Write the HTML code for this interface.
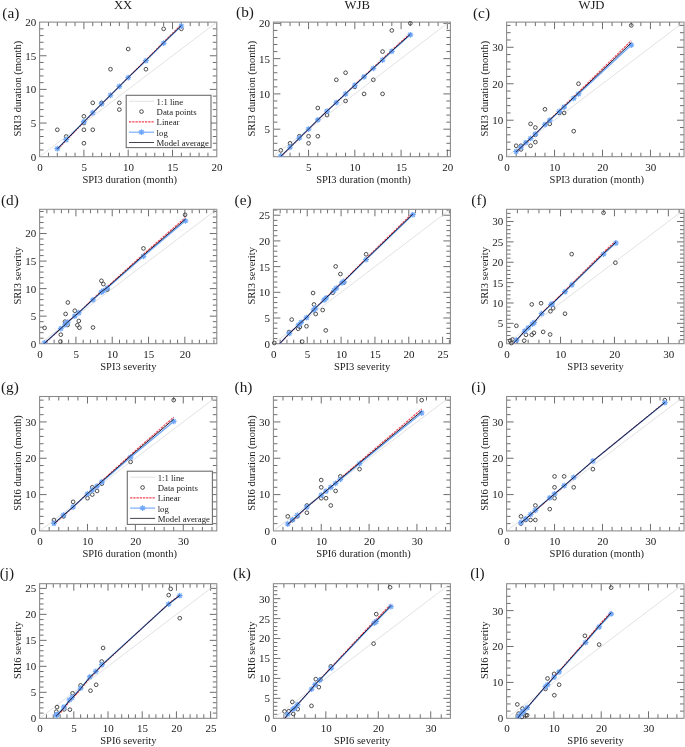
<!DOCTYPE html>
<html><head><meta charset="utf-8"><style>
html,body{margin:0;padding:0;background:#fff;}
svg{display:block;will-change:transform;}
text{font-family:"Liberation Serif", serif;fill:#1a1a1a;}
</style></head><body>
<svg width="685" height="747" viewBox="0 0 685 747">
<rect width="685" height="747" fill="#fff"/>
<clipPath id="clipa"><rect x="39.6" y="22.1" width="177.2" height="134.6"/></clipPath>
<path d="M48.46 156.7v-4M48.46 22.1v4M57.32 156.7v-4M57.32 22.1v4M66.18 156.7v-4M66.18 22.1v4M75.04 156.7v-4M75.04 22.1v4M83.9 156.7v-7M83.9 22.1v7M92.76 156.7v-4M92.76 22.1v4M101.62 156.7v-4M101.62 22.1v4M110.48 156.7v-4M110.48 22.1v4M119.34 156.7v-4M119.34 22.1v4M128.2 156.7v-7M128.2 22.1v7M137.06 156.7v-4M137.06 22.1v4M145.92 156.7v-4M145.92 22.1v4M154.78 156.7v-4M154.78 22.1v4M163.64 156.7v-4M163.64 22.1v4M172.5 156.7v-7M172.5 22.1v7M181.36 156.7v-4M181.36 22.1v4M190.22 156.7v-4M190.22 22.1v4M199.08 156.7v-4M199.08 22.1v4M207.94 156.7v-4M207.94 22.1v4M39.6 149.97h4M216.8 149.97h-4M39.6 143.24h4M216.8 143.24h-4M39.6 136.51h4M216.8 136.51h-4M39.6 129.78h4M216.8 129.78h-4M39.6 123.05h7M216.8 123.05h-7M39.6 116.32h4M216.8 116.32h-4M39.6 109.59h4M216.8 109.59h-4M39.6 102.86h4M216.8 102.86h-4M39.6 96.13h4M216.8 96.13h-4M39.6 89.4h7M216.8 89.4h-7M39.6 82.67h4M216.8 82.67h-4M39.6 75.94h4M216.8 75.94h-4M39.6 69.21h4M216.8 69.21h-4M39.6 62.48h4M216.8 62.48h-4M39.6 55.75h7M216.8 55.75h-7M39.6 49.02h4M216.8 49.02h-4M39.6 42.29h4M216.8 42.29h-4M39.6 35.56h4M216.8 35.56h-4M39.6 28.83h4M216.8 28.83h-4" stroke="#5e5e5e" stroke-width="0.9" fill="none"/>
<text x="39.9" y="170.8" text-anchor="middle" font-size="11.0">0</text>
<text x="84.2" y="170.8" text-anchor="middle" font-size="11.0">5</text>
<text x="128.5" y="170.8" text-anchor="middle" font-size="11.0">10</text>
<text x="172.8" y="170.8" text-anchor="middle" font-size="11.0">15</text>
<text x="217.1" y="170.8" text-anchor="middle" font-size="11.0">20</text>
<text x="36.2" y="160.6" text-anchor="end" font-size="11.0">0</text>
<text x="36.2" y="126.95" text-anchor="end" font-size="11.0">5</text>
<text x="36.2" y="93.3" text-anchor="end" font-size="11.0">10</text>
<text x="36.2" y="59.65" text-anchor="end" font-size="11.0">15</text>
<text x="36.2" y="26" text-anchor="end" font-size="11.0">20</text>
<rect x="39.6" y="22.1" width="177.2" height="134.6" fill="none" stroke="#888888" stroke-width="1.05"/>
<g clip-path="url(#clipa)"><line x1="39.6" y1="156.7" x2="216.8" y2="22.1" stroke="#d6d6d6" stroke-width="0.7"/></g>
<g fill="none" stroke="#3a3a3a" stroke-width="0.9"><circle cx="57.32" cy="129.78" r="1.85"/><circle cx="66.18" cy="136.51" r="1.85"/><circle cx="83.9" cy="116.32" r="1.85"/><circle cx="83.9" cy="123.05" r="1.85"/><circle cx="83.9" cy="129.78" r="1.85"/><circle cx="83.9" cy="143.24" r="1.85"/><circle cx="92.76" cy="102.86" r="1.85"/><circle cx="92.76" cy="129.78" r="1.85"/><circle cx="101.62" cy="102.86" r="1.85"/><circle cx="119.34" cy="102.86" r="1.85"/><circle cx="119.34" cy="109.59" r="1.85"/><circle cx="110.48" cy="69.21" r="1.85"/><circle cx="128.2" cy="49.02" r="1.85"/><circle cx="145.92" cy="69.21" r="1.85"/><circle cx="163.64" cy="28.83" r="1.85"/><circle cx="181.36" cy="28.83" r="1.85"/></g>
<g clip-path="url(#clipa)"><polyline points="57.32,149.7 66.18,140.51 83.9,122.21 92.76,113.09 101.62,104.04 110.48,95.26 119.34,86.27 128.2,77.29 145.92,59.99 163.64,42.09 181.36,24.66" fill="none" stroke="#f04656" stroke-width="1.2" stroke-dasharray="2.3 0.9"/><polyline points="57.32,148.69 66.18,139.67 83.9,121.7 92.76,112.75 101.62,103.87 110.48,95.26 119.34,86.44 128.2,77.62 145.92,60.66 163.64,43.1 181.36,26" fill="none" stroke="#6ea6fa" stroke-width="1.3"/><path d="M54.42 148.69L60.22 148.69M55.27 146.64L59.37 150.74M57.32 145.79L57.32 151.59M59.37 146.64L55.27 150.74" stroke="#6ea6fa" stroke-width="1.2" fill="none"/><path d="M63.28 139.67L69.08 139.67M64.13 137.62L68.23 141.72M66.18 136.77L66.18 142.57M68.23 137.62L64.13 141.72" stroke="#6ea6fa" stroke-width="1.2" fill="none"/><path d="M81 121.7L86.8 121.7M81.85 119.65L85.95 123.75M83.9 118.8L83.9 124.6M85.95 119.65L81.85 123.75" stroke="#6ea6fa" stroke-width="1.2" fill="none"/><path d="M89.86 112.75L95.66 112.75M90.71 110.7L94.81 114.8M92.76 109.85L92.76 115.65M94.81 110.7L90.71 114.8" stroke="#6ea6fa" stroke-width="1.2" fill="none"/><path d="M98.72 103.87L104.52 103.87M99.57 101.82L103.67 105.92M101.62 100.97L101.62 106.77M103.67 101.82L99.57 105.92" stroke="#6ea6fa" stroke-width="1.2" fill="none"/><path d="M107.58 95.26L113.38 95.26M108.43 93.2L112.53 97.31M110.48 92.36L110.48 98.16M112.53 93.2L108.43 97.31" stroke="#6ea6fa" stroke-width="1.2" fill="none"/><path d="M116.44 86.44L122.24 86.44M117.29 84.39L121.39 88.49M119.34 83.54L119.34 89.34M121.39 84.39L117.29 88.49" stroke="#6ea6fa" stroke-width="1.2" fill="none"/><path d="M125.3 77.62L131.1 77.62M126.15 75.57L130.25 79.67M128.2 74.72L128.2 80.52M130.25 75.57L126.15 79.67" stroke="#6ea6fa" stroke-width="1.2" fill="none"/><path d="M143.02 60.66L148.82 60.66M143.87 58.61L147.97 62.71M145.92 57.76L145.92 63.56M147.97 58.61L143.87 62.71" stroke="#6ea6fa" stroke-width="1.2" fill="none"/><path d="M160.74 43.1L166.54 43.1M161.59 41.05L165.69 45.15M163.64 40.2L163.64 46M165.69 41.05L161.59 45.15" stroke="#6ea6fa" stroke-width="1.2" fill="none"/><path d="M178.46 26L184.26 26M179.31 23.95L183.41 28.05M181.36 23.1L181.36 28.9M183.41 23.95L179.31 28.05" stroke="#6ea6fa" stroke-width="1.2" fill="none"/><polyline points="57.32,149.03 66.18,139.95 83.9,121.85 92.76,112.84 101.62,103.89 110.48,95.22 119.34,86.34 128.2,77.46 145.92,60.37 163.64,42.68 181.36,25.47" fill="none" stroke="#1e1e30" stroke-width="1.0"/></g>
<text x="129.7" y="182.6" text-anchor="middle" font-size="10.5">SPI3 duration (month)</text>
<text transform="translate(21 88.7) rotate(-90)" text-anchor="middle" font-size="10.5">SRI3 duration (month)</text>
<text x="2.31" y="17.5" font-size="15.3">(a)</text>
<text x="123.1" y="9.2" text-anchor="middle" font-size="12.7">XX</text>
<rect x="126.2" y="95.3" width="84.8" height="52.3" fill="#fff" stroke="#6e6e6e" stroke-width="1.1"/>
<line x1="129" y1="101.3" x2="154" y2="101.3" stroke="#d6d6d6" stroke-width="0.7"/>
<circle cx="141.5" cy="111.6" r="1.85" fill="none" stroke="#3a3a3a" stroke-width="0.9"/>
<line x1="129" y1="121.9" x2="154" y2="121.9" stroke="#f04656" stroke-width="1.2" stroke-dasharray="2.3 0.9"/>
<line x1="129" y1="132.2" x2="154" y2="132.2" stroke="#6ea6fa" stroke-width="1.1"/>
<path d="M138.6 132.2L144.4 132.2M139.45 130.15L143.55 134.25M141.5 129.3L141.5 135.1M143.55 130.15L139.45 134.25" stroke="#6ea6fa" stroke-width="1.2" fill="none"/>
<line x1="129" y1="142.5" x2="154" y2="142.5" stroke="#222230" stroke-width="0.85"/>
<text x="156.6" y="104.7" font-size="8.75">1:1 line</text>
<text x="156.6" y="115" font-size="8.75">Data points</text>
<text x="156.6" y="125.3" font-size="8.75">Linear</text>
<text x="156.6" y="135.6" font-size="8.75">log</text>
<text x="156.6" y="145.9" font-size="8.75">Model average</text>
<clipPath id="clipb"><rect x="273.4" y="22.1" width="177" height="134.6"/></clipPath>
<path d="M280.8 156.7v-4M280.8 22.1v4M290.05 156.7v-4M290.05 22.1v4M299.31 156.7v-4M299.31 22.1v4M308.56 156.7v-7M308.56 22.1v7M317.81 156.7v-4M317.81 22.1v4M327.06 156.7v-4M327.06 22.1v4M336.32 156.7v-4M336.32 22.1v4M345.57 156.7v-4M345.57 22.1v4M354.82 156.7v-7M354.82 22.1v7M364.07 156.7v-4M364.07 22.1v4M373.33 156.7v-4M373.33 22.1v4M382.58 156.7v-4M382.58 22.1v4M391.83 156.7v-4M391.83 22.1v4M401.08 156.7v-7M401.08 22.1v7M410.34 156.7v-4M410.34 22.1v4M419.59 156.7v-4M419.59 22.1v4M428.84 156.7v-4M428.84 22.1v4M438.09 156.7v-4M438.09 22.1v4M447.35 156.7v-7M447.35 22.1v7M273.4 150.35h4M450.4 150.35h-4M273.4 143.3h4M450.4 143.3h-4M273.4 136.24h4M450.4 136.24h-4M273.4 129.19h7M450.4 129.19h-7M273.4 122.13h4M450.4 122.13h-4M273.4 115.08h4M450.4 115.08h-4M273.4 108.02h4M450.4 108.02h-4M273.4 100.97h4M450.4 100.97h-4M273.4 93.91h7M450.4 93.91h-7M273.4 86.86h4M450.4 86.86h-4M273.4 79.81h4M450.4 79.81h-4M273.4 72.75h4M450.4 72.75h-4M273.4 65.7h4M450.4 65.7h-4M273.4 58.64h7M450.4 58.64h-7M273.4 51.59h4M450.4 51.59h-4M273.4 44.53h4M450.4 44.53h-4M273.4 37.48h4M450.4 37.48h-4M273.4 30.42h4M450.4 30.42h-4M273.4 23.37h7M450.4 23.37h-7" stroke="#5e5e5e" stroke-width="0.9" fill="none"/>
<text x="308.86" y="170.8" text-anchor="middle" font-size="11.0">5</text>
<text x="355.12" y="170.8" text-anchor="middle" font-size="11.0">10</text>
<text x="401.38" y="170.8" text-anchor="middle" font-size="11.0">15</text>
<text x="447.65" y="170.8" text-anchor="middle" font-size="11.0">20</text>
<text x="270" y="133.09" text-anchor="end" font-size="11.0">5</text>
<text x="270" y="97.81" text-anchor="end" font-size="11.0">10</text>
<text x="270" y="62.54" text-anchor="end" font-size="11.0">15</text>
<text x="270" y="27.27" text-anchor="end" font-size="11.0">20</text>
<rect x="273.4" y="22.1" width="177" height="134.6" fill="none" stroke="#888888" stroke-width="1.05"/>
<g clip-path="url(#clipb)"><line x1="273.4" y1="155.99" x2="449.01" y2="22.1" stroke="#d6d6d6" stroke-width="0.7"/></g>
<g fill="none" stroke="#3a3a3a" stroke-width="0.9"><circle cx="280.8" cy="150.35" r="1.85"/><circle cx="290.05" cy="143.3" r="1.85"/><circle cx="299.31" cy="136.24" r="1.85"/><circle cx="308.56" cy="136.24" r="1.85"/><circle cx="308.56" cy="143.3" r="1.85"/><circle cx="317.81" cy="136.24" r="1.85"/><circle cx="317.81" cy="108.02" r="1.85"/><circle cx="327.06" cy="115.08" r="1.85"/><circle cx="336.32" cy="79.81" r="1.85"/><circle cx="345.57" cy="72.75" r="1.85"/><circle cx="345.57" cy="100.97" r="1.85"/><circle cx="354.82" cy="86.86" r="1.85"/><circle cx="364.07" cy="93.91" r="1.85"/><circle cx="373.33" cy="79.81" r="1.85"/><circle cx="382.58" cy="93.91" r="1.85"/><circle cx="382.58" cy="51.59" r="1.85"/><circle cx="391.83" cy="30.42" r="1.85"/><circle cx="410.34" cy="23.37" r="1.85"/></g>
<g clip-path="url(#clipb)"><polyline points="280.8,156.84 290.05,147.8 299.31,138.48 308.56,129.3 317.81,119.98 327.06,111.08 336.32,102.39 345.57,93.63 354.82,84.73 364.07,76.19 373.33,67.57 382.58,59.03 391.83,50.2 410.34,33.39" fill="none" stroke="#f04656" stroke-width="1.2" stroke-dasharray="2.3 0.9"/><polyline points="280.8,156.14 290.05,147.25 299.31,138.08 308.56,129.05 317.81,119.88 327.06,111.13 336.32,102.59 345.57,93.99 354.82,85.24 364.07,76.84 373.33,68.38 382.58,59.98 391.83,51.31 410.34,34.8" fill="none" stroke="#6ea6fa" stroke-width="1.3"/><path d="M277.9 156.14L283.7 156.14M278.75 154.09L282.85 158.19M280.8 153.24L280.8 159.04M282.85 154.09L278.75 158.19" stroke="#6ea6fa" stroke-width="1.2" fill="none"/><path d="M287.15 147.25L292.95 147.25M288 145.2L292.11 149.3M290.05 144.35L290.05 150.15M292.11 145.2L288 149.3" stroke="#6ea6fa" stroke-width="1.2" fill="none"/><path d="M296.41 138.08L302.21 138.08M297.26 136.03L301.36 140.13M299.31 135.18L299.31 140.98M301.36 136.03L297.26 140.13" stroke="#6ea6fa" stroke-width="1.2" fill="none"/><path d="M305.66 129.05L311.46 129.05M306.51 127L310.61 131.1M308.56 126.15L308.56 131.95M310.61 127L306.51 131.1" stroke="#6ea6fa" stroke-width="1.2" fill="none"/><path d="M314.91 119.88L320.71 119.88M315.76 117.82L319.86 121.93M317.81 116.98L317.81 122.78M319.86 117.82L315.76 121.93" stroke="#6ea6fa" stroke-width="1.2" fill="none"/><path d="M324.16 111.13L329.96 111.13M325.01 109.08L329.12 113.18M327.06 108.23L327.06 114.03M329.12 109.08L325.01 113.18" stroke="#6ea6fa" stroke-width="1.2" fill="none"/><path d="M333.42 102.59L339.22 102.59M334.27 100.54L338.37 104.64M336.32 99.69L336.32 105.49M338.37 100.54L334.27 104.64" stroke="#6ea6fa" stroke-width="1.2" fill="none"/><path d="M342.67 93.99L348.47 93.99M343.52 91.93L347.62 96.04M345.57 91.09L345.57 96.89M347.62 91.93L343.52 96.04" stroke="#6ea6fa" stroke-width="1.2" fill="none"/><path d="M351.92 85.24L357.72 85.24M352.77 83.19L356.87 87.29M354.82 82.34L354.82 88.14M356.87 83.19L352.77 87.29" stroke="#6ea6fa" stroke-width="1.2" fill="none"/><path d="M361.17 76.84L366.97 76.84M362.02 74.79L366.12 78.89M364.07 73.94L364.07 79.74M366.12 74.79L362.02 78.89" stroke="#6ea6fa" stroke-width="1.2" fill="none"/><path d="M370.43 68.38L376.23 68.38M371.28 66.33L375.38 70.43M373.33 65.48L373.33 71.28M375.38 66.33L371.28 70.43" stroke="#6ea6fa" stroke-width="1.2" fill="none"/><path d="M379.68 59.98L385.48 59.98M380.53 57.93L384.63 62.03M382.58 57.08L382.58 62.88M384.63 57.93L380.53 62.03" stroke="#6ea6fa" stroke-width="1.2" fill="none"/><path d="M388.93 51.31L394.73 51.31M389.78 49.26L393.88 53.36M391.83 48.41L391.83 54.21M393.88 49.26L389.78 53.36" stroke="#6ea6fa" stroke-width="1.2" fill="none"/><path d="M407.44 34.8L413.24 34.8M408.29 32.75L412.39 36.85M410.34 31.9L410.34 37.7M412.39 32.75L408.29 36.85" stroke="#6ea6fa" stroke-width="1.2" fill="none"/><polyline points="280.8,156.35 290.05,147.4 299.31,138.18 308.56,129.09 317.81,119.87 327.06,111.06 336.32,102.47 345.57,93.81 354.82,85.01 364.07,76.56 373.33,68.03 382.58,59.58 391.83,50.85 410.34,34.23" fill="none" stroke="#1e1e30" stroke-width="1.0"/></g>
<text x="363.4" y="182.6" text-anchor="middle" font-size="10.5">SPI3 duration (month)</text>
<text transform="translate(254.8 88.7) rotate(-90)" text-anchor="middle" font-size="10.5">SRI3 duration (month)</text>
<text x="236.11" y="17.4" font-size="15.3">(b)</text>
<text x="357.2" y="9.2" text-anchor="middle" font-size="12.7">WJB</text>
<clipPath id="clipc"><rect x="506.6" y="22.1" width="177.4" height="134.6"/></clipPath>
<path d="M516.19 156.7v-4M516.19 22.1v4M525.78 156.7v-4M525.78 22.1v4M535.37 156.7v-4M535.37 22.1v4M544.96 156.7v-4M544.96 22.1v4M554.55 156.7v-7M554.55 22.1v7M564.14 156.7v-4M564.14 22.1v4M573.72 156.7v-4M573.72 22.1v4M583.31 156.7v-4M583.31 22.1v4M592.9 156.7v-4M592.9 22.1v4M602.49 156.7v-7M602.49 22.1v7M612.08 156.7v-4M612.08 22.1v4M621.67 156.7v-4M621.67 22.1v4M631.26 156.7v-4M631.26 22.1v4M640.85 156.7v-4M640.85 22.1v4M650.44 156.7v-7M650.44 22.1v7M660.03 156.7v-4M660.03 22.1v4M669.62 156.7v-4M669.62 22.1v4M679.21 156.7v-4M679.21 22.1v4M506.6 149.4h4M684 149.4h-4M506.6 142.11h4M684 142.11h-4M506.6 134.81h4M684 134.81h-4M506.6 127.52h4M684 127.52h-4M506.6 120.22h7M684 120.22h-7M506.6 112.93h4M684 112.93h-4M506.6 105.63h4M684 105.63h-4M506.6 98.34h4M684 98.34h-4M506.6 91.04h4M684 91.04h-4M506.6 83.75h7M684 83.75h-7M506.6 76.45h4M684 76.45h-4M506.6 69.16h4M684 69.16h-4M506.6 61.86h4M684 61.86h-4M506.6 54.56h4M684 54.56h-4M506.6 47.27h7M684 47.27h-7M506.6 39.97h4M684 39.97h-4M506.6 32.68h4M684 32.68h-4M506.6 25.38h4M684 25.38h-4" stroke="#5e5e5e" stroke-width="0.9" fill="none"/>
<text x="506.9" y="170.8" text-anchor="middle" font-size="11.0">0</text>
<text x="554.85" y="170.8" text-anchor="middle" font-size="11.0">10</text>
<text x="602.79" y="170.8" text-anchor="middle" font-size="11.0">20</text>
<text x="650.74" y="170.8" text-anchor="middle" font-size="11.0">30</text>
<text x="503.2" y="160.6" text-anchor="end" font-size="11.0">0</text>
<text x="503.2" y="124.12" text-anchor="end" font-size="11.0">10</text>
<text x="503.2" y="87.65" text-anchor="end" font-size="11.0">20</text>
<text x="503.2" y="51.17" text-anchor="end" font-size="11.0">30</text>
<rect x="506.6" y="22.1" width="177.4" height="134.6" fill="none" stroke="#888888" stroke-width="1.05"/>
<g clip-path="url(#clipc)"><line x1="506.6" y1="156.7" x2="683.52" y2="22.1" stroke="#d6d6d6" stroke-width="0.7"/></g>
<g fill="none" stroke="#3a3a3a" stroke-width="0.9"><circle cx="516.19" cy="145.76" r="1.85"/><circle cx="520.98" cy="145.76" r="1.85"/><circle cx="520.98" cy="149.4" r="1.85"/><circle cx="530.57" cy="145.76" r="1.85"/><circle cx="530.57" cy="123.87" r="1.85"/><circle cx="535.37" cy="127.52" r="1.85"/><circle cx="535.37" cy="142.11" r="1.85"/><circle cx="535.37" cy="134.81" r="1.85"/><circle cx="544.96" cy="109.28" r="1.85"/><circle cx="549.75" cy="123.87" r="1.85"/><circle cx="559.34" cy="112.93" r="1.85"/><circle cx="564.14" cy="112.93" r="1.85"/><circle cx="573.72" cy="131.17" r="1.85"/><circle cx="578.52" cy="83.75" r="1.85"/><circle cx="631.26" cy="25.38" r="1.85"/></g>
<g clip-path="url(#clipc)"><polyline points="516.19,152.61 520.98,148.08 525.78,143.19 530.57,138.87 535.37,134.23 544.96,124.25 549.75,119.72 559.34,110.51 564.14,105.91 573.72,96.7 578.52,92.09 631.26,40.7" fill="none" stroke="#f04656" stroke-width="1.2" stroke-dasharray="2.3 0.9"/><polyline points="516.19,151.52 520.98,147.22 525.78,142.55 530.57,138.46 535.37,134.05 544.96,124.53 549.75,120.22 559.34,111.47 564.14,107.09 573.72,98.34 578.52,93.96 631.26,45.08" fill="none" stroke="#6ea6fa" stroke-width="1.3"/><path d="M513.29 151.52L519.09 151.52M514.14 149.47L518.24 153.57M516.19 148.62L516.19 154.42M518.24 149.47L514.14 153.57" stroke="#6ea6fa" stroke-width="1.2" fill="none"/><path d="M518.08 147.22L523.88 147.22M518.93 145.17L523.03 149.27M520.98 144.32L520.98 150.12M523.03 145.17L518.93 149.27" stroke="#6ea6fa" stroke-width="1.2" fill="none"/><path d="M522.88 142.55L528.68 142.55M523.73 140.5L527.83 144.6M525.78 139.65L525.78 145.45M527.83 140.5L523.73 144.6" stroke="#6ea6fa" stroke-width="1.2" fill="none"/><path d="M527.67 138.46L533.47 138.46M528.52 136.41L532.62 140.51M530.57 135.56L530.57 141.36M532.62 136.41L528.52 140.51" stroke="#6ea6fa" stroke-width="1.2" fill="none"/><path d="M532.47 134.05L538.27 134.05M533.32 132L537.42 136.1M535.37 131.15L535.37 136.95M537.42 132L533.32 136.1" stroke="#6ea6fa" stroke-width="1.2" fill="none"/><path d="M542.06 124.53L547.86 124.53M542.91 122.48L547.01 126.58M544.96 121.63L544.96 127.43M547.01 122.48L542.91 126.58" stroke="#6ea6fa" stroke-width="1.2" fill="none"/><path d="M546.85 120.22L552.65 120.22M547.7 118.17L551.8 122.27M549.75 117.32L549.75 123.12M551.8 118.17L547.7 122.27" stroke="#6ea6fa" stroke-width="1.2" fill="none"/><path d="M556.44 111.47L562.24 111.47M557.29 109.42L561.39 113.52M559.34 108.57L559.34 114.37M561.39 109.42L557.29 113.52" stroke="#6ea6fa" stroke-width="1.2" fill="none"/><path d="M561.24 107.09L567.04 107.09M562.08 105.04L566.19 109.14M564.14 104.19L564.14 109.99M566.19 105.04L562.08 109.14" stroke="#6ea6fa" stroke-width="1.2" fill="none"/><path d="M570.82 98.34L576.62 98.34M571.67 96.29L575.77 100.39M573.72 95.44L573.72 101.24M575.77 96.29L571.67 100.39" stroke="#6ea6fa" stroke-width="1.2" fill="none"/><path d="M575.62 93.96L581.42 93.96M576.47 91.91L580.57 96.01M578.52 91.06L578.52 96.86M580.57 91.91L576.47 96.01" stroke="#6ea6fa" stroke-width="1.2" fill="none"/><path d="M628.36 45.08L634.16 45.08M629.21 43.03L633.31 47.13M631.26 42.18L631.26 47.98M633.31 43.03L629.21 47.13" stroke="#6ea6fa" stroke-width="1.2" fill="none"/><polyline points="516.19,151.89 520.98,147.47 525.78,142.7 530.57,138.51 535.37,133.99 544.96,124.25 549.75,119.84 559.34,110.88 564.14,106.39 573.72,97.42 578.52,92.94 631.26,42.89" fill="none" stroke="#1e1e30" stroke-width="1.0"/></g>
<text x="596.8" y="182.6" text-anchor="middle" font-size="10.5">SPI3 duration (month)</text>
<text transform="translate(488 88.7) rotate(-90)" text-anchor="middle" font-size="10.5">SRI3 duration (month)</text>
<text x="473.01" y="17.6" font-size="15.3">(c)</text>
<text x="591.5" y="9.2" text-anchor="middle" font-size="12.7">WJD</text>
<clipPath id="clipd"><rect x="39.6" y="209.3" width="177.2" height="134.4"/></clipPath>
<path d="M46.86 343.7v-4M46.86 209.3v4M54.12 343.7v-4M54.12 209.3v4M61.39 343.7v-4M61.39 209.3v4M68.65 343.7v-4M68.65 209.3v4M75.91 343.7v-7M75.91 209.3v7M83.17 343.7v-4M83.17 209.3v4M90.44 343.7v-4M90.44 209.3v4M97.7 343.7v-4M97.7 209.3v4M104.96 343.7v-4M104.96 209.3v4M112.22 343.7v-7M112.22 209.3v7M119.49 343.7v-4M119.49 209.3v4M126.75 343.7v-4M126.75 209.3v4M134.01 343.7v-4M134.01 209.3v4M141.27 343.7v-4M141.27 209.3v4M148.53 343.7v-7M148.53 209.3v7M155.8 343.7v-4M155.8 209.3v4M163.06 343.7v-4M163.06 209.3v4M170.32 343.7v-4M170.32 209.3v4M177.58 343.7v-4M177.58 209.3v4M184.85 343.7v-7M184.85 209.3v7M192.11 343.7v-4M192.11 209.3v4M199.37 343.7v-4M199.37 209.3v4M206.63 343.7v-4M206.63 209.3v4M213.9 343.7v-4M213.9 209.3v4M39.6 338.19h4M216.8 338.19h-4M39.6 332.68h4M216.8 332.68h-4M39.6 327.18h4M216.8 327.18h-4M39.6 321.67h4M216.8 321.67h-4M39.6 316.16h7M216.8 316.16h-7M39.6 310.65h4M216.8 310.65h-4M39.6 305.14h4M216.8 305.14h-4M39.6 299.63h4M216.8 299.63h-4M39.6 294.13h4M216.8 294.13h-4M39.6 288.62h7M216.8 288.62h-7M39.6 283.11h4M216.8 283.11h-4M39.6 277.6h4M216.8 277.6h-4M39.6 272.09h4M216.8 272.09h-4M39.6 266.59h4M216.8 266.59h-4M39.6 261.08h7M216.8 261.08h-7M39.6 255.57h4M216.8 255.57h-4M39.6 250.06h4M216.8 250.06h-4M39.6 244.55h4M216.8 244.55h-4M39.6 239.04h4M216.8 239.04h-4M39.6 233.54h7M216.8 233.54h-7M39.6 228.03h4M216.8 228.03h-4M39.6 222.52h4M216.8 222.52h-4M39.6 217.01h4M216.8 217.01h-4M39.6 211.5h4M216.8 211.5h-4" stroke="#5e5e5e" stroke-width="0.9" fill="none"/>
<text x="39.9" y="357.8" text-anchor="middle" font-size="11.0">0</text>
<text x="76.21" y="357.8" text-anchor="middle" font-size="11.0">5</text>
<text x="112.52" y="357.8" text-anchor="middle" font-size="11.0">10</text>
<text x="148.83" y="357.8" text-anchor="middle" font-size="11.0">15</text>
<text x="185.15" y="357.8" text-anchor="middle" font-size="11.0">20</text>
<text x="36.2" y="347.6" text-anchor="end" font-size="11.0">0</text>
<text x="36.2" y="320.06" text-anchor="end" font-size="11.0">5</text>
<text x="36.2" y="292.52" text-anchor="end" font-size="11.0">10</text>
<text x="36.2" y="264.98" text-anchor="end" font-size="11.0">15</text>
<text x="36.2" y="237.44" text-anchor="end" font-size="11.0">20</text>
<rect x="39.6" y="209.3" width="177.2" height="134.4" fill="none" stroke="#888888" stroke-width="1.05"/>
<g clip-path="url(#clipd)"><line x1="39.6" y1="343.7" x2="216.8" y2="209.3" stroke="#d6d6d6" stroke-width="0.7"/></g>
<g fill="none" stroke="#3a3a3a" stroke-width="0.9"><circle cx="44.61" cy="327.89" r="1.85"/><circle cx="60.81" cy="334.67" r="1.85"/><circle cx="60.44" cy="341.55" r="1.85"/><circle cx="67.85" cy="302.5" r="1.85"/><circle cx="65.6" cy="313.96" r="1.85"/><circle cx="65.02" cy="321.67" r="1.85"/><circle cx="67.63" cy="324.86" r="1.85"/><circle cx="74.82" cy="310.76" r="1.85"/><circle cx="78.82" cy="320.95" r="1.85"/><circle cx="77.36" cy="325.19" r="1.85"/><circle cx="79.4" cy="327.73" r="1.85"/><circle cx="92.98" cy="327.51" r="1.85"/><circle cx="101.4" cy="280.8" r="1.85"/><circle cx="103.36" cy="284.1" r="1.85"/><circle cx="107.28" cy="289.61" r="1.85"/><circle cx="143.45" cy="248.41" r="1.85"/><circle cx="185.06" cy="214.81" r="1.85"/></g>
<g clip-path="url(#clipd)"><polyline points="43.96,344.25 44.61,343.52 60.81,328.64 65.02,324.95 66.33,323.21 67.63,322.12 74.82,315.76 78.82,312.34 92.98,299.07 101.4,291.18 103.36,289.75 107.28,286.89 143.45,254.12 185.43,217.56" fill="none" stroke="#f04656" stroke-width="1.2" stroke-dasharray="2.3 0.9"/><polyline points="43.96,343.7 44.61,342.98 60.81,328.55 65.02,324.97 66.33,323.26 67.63,322.22 74.82,316.05 78.82,312.74 92.98,299.85 101.4,292.2 103.36,290.82 107.28,288.07 143.45,256.28 185.43,220.87" fill="none" stroke="#6ea6fa" stroke-width="1.3"/><path d="M41.71 342.98L47.51 342.98M42.56 340.93L46.66 345.03M44.61 340.08L44.61 345.88M46.66 340.93L42.56 345.03" stroke="#6ea6fa" stroke-width="1.2" fill="none"/><path d="M57.91 328.55L63.71 328.55M58.76 326.5L62.86 330.6M60.81 325.65L60.81 331.45M62.86 326.5L58.76 330.6" stroke="#6ea6fa" stroke-width="1.2" fill="none"/><path d="M62.12 324.97L67.92 324.97M62.97 322.92L67.07 327.02M65.02 322.07L65.02 327.87M67.07 322.92L62.97 327.02" stroke="#6ea6fa" stroke-width="1.2" fill="none"/><path d="M63.43 323.26L69.23 323.26M64.27 321.21L68.38 325.32M66.33 320.36L66.33 326.16M68.38 321.21L64.27 325.32" stroke="#6ea6fa" stroke-width="1.2" fill="none"/><path d="M64.73 322.22L70.53 322.22M65.58 320.17L69.68 324.27M67.63 319.32L67.63 325.12M69.68 320.17L65.58 324.27" stroke="#6ea6fa" stroke-width="1.2" fill="none"/><path d="M71.92 316.05L77.72 316.05M72.77 314L76.87 318.1M74.82 313.15L74.82 318.95M76.87 314L72.77 318.1" stroke="#6ea6fa" stroke-width="1.2" fill="none"/><path d="M75.92 312.74L81.72 312.74M76.77 310.69L80.87 314.79M78.82 309.84L78.82 315.64M80.87 310.69L76.77 314.79" stroke="#6ea6fa" stroke-width="1.2" fill="none"/><path d="M90.08 299.85L95.88 299.85M90.93 297.8L95.03 301.91M92.98 296.95L92.98 302.75M95.03 297.8L90.93 301.91" stroke="#6ea6fa" stroke-width="1.2" fill="none"/><path d="M98.5 292.2L104.3 292.2M99.35 290.15L103.45 294.25M101.4 289.3L101.4 295.1M103.45 290.15L99.35 294.25" stroke="#6ea6fa" stroke-width="1.2" fill="none"/><path d="M100.46 290.82L106.26 290.82M101.31 288.77L105.41 292.87M103.36 287.92L103.36 293.72M105.41 288.77L101.31 292.87" stroke="#6ea6fa" stroke-width="1.2" fill="none"/><path d="M104.38 288.07L110.18 288.07M105.23 286.02L109.34 290.12M107.28 285.17L107.28 290.97M109.34 286.02L105.23 290.12" stroke="#6ea6fa" stroke-width="1.2" fill="none"/><path d="M140.55 256.28L146.35 256.28M141.4 254.23L145.5 258.34M143.45 253.38L143.45 259.18M145.5 254.23L141.4 258.34" stroke="#6ea6fa" stroke-width="1.2" fill="none"/><path d="M182.53 220.87L188.33 220.87M183.38 218.82L187.48 222.92M185.43 217.97L185.43 223.77M187.48 218.82L183.38 222.92" stroke="#6ea6fa" stroke-width="1.2" fill="none"/><polyline points="43.96,343.87 44.61,343.14 60.81,328.5 65.02,324.87 66.33,323.14 67.63,322.08 74.82,315.82 78.82,312.46 92.98,299.39 101.4,291.63 103.36,290.22 107.28,287.42 143.45,255.17 185.43,219.21" fill="none" stroke="#1e1e30" stroke-width="1.0"/></g>
<text x="128.4" y="369.6" text-anchor="middle" font-size="10.5">SPI3 severity</text>
<text transform="translate(21 275.8) rotate(-90)" text-anchor="middle" font-size="10.5">SRI3 severity</text>
<text x="0.91" y="204.7" font-size="15.3">(d)</text>
<clipPath id="clipe"><rect x="273.4" y="209.3" width="177" height="134.4"/></clipPath>
<path d="M280.17 343.7v-4M280.17 209.3v4M286.94 343.7v-4M286.94 209.3v4M293.71 343.7v-4M293.71 209.3v4M300.47 343.7v-4M300.47 209.3v4M307.24 343.7v-7M307.24 209.3v7M314.01 343.7v-4M314.01 209.3v4M320.78 343.7v-4M320.78 209.3v4M327.55 343.7v-4M327.55 209.3v4M334.32 343.7v-4M334.32 209.3v4M341.09 343.7v-7M341.09 209.3v7M347.86 343.7v-4M347.86 209.3v4M354.62 343.7v-4M354.62 209.3v4M361.39 343.7v-4M361.39 209.3v4M368.16 343.7v-4M368.16 209.3v4M374.93 343.7v-7M374.93 209.3v7M381.7 343.7v-4M381.7 209.3v4M388.47 343.7v-4M388.47 209.3v4M395.24 343.7v-4M395.24 209.3v4M402 343.7v-4M402 209.3v4M408.77 343.7v-7M408.77 209.3v7M415.54 343.7v-4M415.54 209.3v4M422.31 343.7v-4M422.31 209.3v4M429.08 343.7v-4M429.08 209.3v4M435.85 343.7v-4M435.85 209.3v4M442.62 343.7v-7M442.62 209.3v7M449.38 343.7v-4M449.38 209.3v4M273.4 338.56h4M450.4 338.56h-4M273.4 333.42h4M450.4 333.42h-4M273.4 328.28h4M450.4 328.28h-4M273.4 323.14h4M450.4 323.14h-4M273.4 318h7M450.4 318h-7M273.4 312.86h4M450.4 312.86h-4M273.4 307.72h4M450.4 307.72h-4M273.4 302.58h4M450.4 302.58h-4M273.4 297.44h4M450.4 297.44h-4M273.4 292.3h7M450.4 292.3h-7M273.4 287.16h4M450.4 287.16h-4M273.4 282.03h4M450.4 282.03h-4M273.4 276.89h4M450.4 276.89h-4M273.4 271.75h4M450.4 271.75h-4M273.4 266.61h7M450.4 266.61h-7M273.4 261.47h4M450.4 261.47h-4M273.4 256.33h4M450.4 256.33h-4M273.4 251.19h4M450.4 251.19h-4M273.4 246.05h4M450.4 246.05h-4M273.4 240.91h7M450.4 240.91h-7M273.4 235.77h4M450.4 235.77h-4M273.4 230.63h4M450.4 230.63h-4M273.4 225.49h4M450.4 225.49h-4M273.4 220.35h4M450.4 220.35h-4M273.4 215.21h7M450.4 215.21h-7M273.4 210.07h4M450.4 210.07h-4" stroke="#5e5e5e" stroke-width="0.9" fill="none"/>
<text x="273.7" y="357.8" text-anchor="middle" font-size="11.0">0</text>
<text x="307.54" y="357.8" text-anchor="middle" font-size="11.0">5</text>
<text x="341.39" y="357.8" text-anchor="middle" font-size="11.0">10</text>
<text x="375.23" y="357.8" text-anchor="middle" font-size="11.0">15</text>
<text x="409.07" y="357.8" text-anchor="middle" font-size="11.0">20</text>
<text x="442.92" y="357.8" text-anchor="middle" font-size="11.0">25</text>
<text x="270" y="347.6" text-anchor="end" font-size="11.0">0</text>
<text x="270" y="321.9" text-anchor="end" font-size="11.0">5</text>
<text x="270" y="296.2" text-anchor="end" font-size="11.0">10</text>
<text x="270" y="270.51" text-anchor="end" font-size="11.0">15</text>
<text x="270" y="244.81" text-anchor="end" font-size="11.0">20</text>
<text x="270" y="219.11" text-anchor="end" font-size="11.0">25</text>
<rect x="273.4" y="209.3" width="177" height="134.4" fill="none" stroke="#888888" stroke-width="1.05"/>
<g clip-path="url(#clipe)"><line x1="273.4" y1="343.7" x2="450.4" y2="209.3" stroke="#d6d6d6" stroke-width="0.7"/></g>
<g fill="none" stroke="#3a3a3a" stroke-width="0.9"><circle cx="274.28" cy="342.98" r="1.85"/><circle cx="302.17" cy="341.64" r="1.85"/><circle cx="291.68" cy="319.6" r="1.85"/><circle cx="288.97" cy="332.08" r="1.85"/><circle cx="298.17" cy="328.8" r="1.85"/><circle cx="299.87" cy="326.89" r="1.85"/><circle cx="306.5" cy="326.23" r="1.85"/><circle cx="313.06" cy="293.02" r="1.85"/><circle cx="314.01" cy="304.49" r="1.85"/><circle cx="315.7" cy="313.99" r="1.85"/><circle cx="322.68" cy="310.04" r="1.85"/><circle cx="325.79" cy="330.39" r="1.85"/><circle cx="332.76" cy="292.72" r="1.85"/><circle cx="335.67" cy="266.4" r="1.85"/><circle cx="340.41" cy="274.01" r="1.85"/><circle cx="344" cy="282.59" r="1.85"/><circle cx="366.13" cy="254.27" r="1.85"/></g>
<g clip-path="url(#clipe)"><polyline points="279.63,343.96 289.37,333.53 298.58,324.85 301.15,322.24 306.5,317.54 313.67,309.51 315.37,307.94 324.16,299.48 326.2,297.5 334.11,289.92 336.35,287.57 341.97,282.19 343.79,280.78 366,258.54 412.83,212.9" fill="none" stroke="#f04656" stroke-width="1.2" stroke-dasharray="2.3 0.9"/><polyline points="279.63,343.7 289.37,333.42 298.58,324.89 301.15,322.32 306.5,317.69 313.67,309.78 315.37,308.24 324.16,299.91 326.2,297.96 334.11,290.51 336.35,288.19 341.97,282.9 343.79,281.51 366,259.62 412.83,214.7" fill="none" stroke="#6ea6fa" stroke-width="1.3"/><path d="M286.47 333.42L292.27 333.42M287.32 331.37L291.42 335.47M289.37 330.52L289.37 336.32M291.42 331.37L287.32 335.47" stroke="#6ea6fa" stroke-width="1.2" fill="none"/><path d="M295.68 324.89L301.48 324.89M296.53 322.84L300.63 326.94M298.58 321.99L298.58 327.79M300.63 322.84L296.53 326.94" stroke="#6ea6fa" stroke-width="1.2" fill="none"/><path d="M298.25 322.32L304.05 322.32M299.1 320.27L303.2 324.37M301.15 319.42L301.15 325.22M303.2 320.27L299.1 324.37" stroke="#6ea6fa" stroke-width="1.2" fill="none"/><path d="M303.6 317.69L309.4 317.69M304.45 315.64L308.55 319.74M306.5 314.79L306.5 320.59M308.55 315.64L304.45 319.74" stroke="#6ea6fa" stroke-width="1.2" fill="none"/><path d="M310.77 309.78L316.57 309.78M311.62 307.73L315.72 311.83M313.67 306.88L313.67 312.68M315.72 307.73L311.62 311.83" stroke="#6ea6fa" stroke-width="1.2" fill="none"/><path d="M312.47 308.24L318.27 308.24M313.31 306.19L317.42 310.29M315.37 305.34L315.37 311.14M317.42 306.19L313.31 310.29" stroke="#6ea6fa" stroke-width="1.2" fill="none"/><path d="M321.26 299.91L327.06 299.91M322.11 297.86L326.22 301.96M324.16 297.01L324.16 302.81M326.22 297.86L322.11 301.96" stroke="#6ea6fa" stroke-width="1.2" fill="none"/><path d="M323.3 297.96L329.1 297.96M324.14 295.91L328.25 300.01M326.2 295.06L326.2 300.86M328.25 295.91L324.14 300.01" stroke="#6ea6fa" stroke-width="1.2" fill="none"/><path d="M331.21 290.51L337.01 290.51M332.06 288.45L336.17 292.56M334.11 287.61L334.11 293.41M336.17 288.45L332.06 292.56" stroke="#6ea6fa" stroke-width="1.2" fill="none"/><path d="M333.45 288.19L339.25 288.19M334.3 286.14L338.4 290.24M336.35 285.29L336.35 291.09M338.4 286.14L334.3 290.24" stroke="#6ea6fa" stroke-width="1.2" fill="none"/><path d="M339.07 282.9L344.87 282.9M339.92 280.85L344.02 284.95M341.97 280L341.97 285.8M344.02 280.85L339.92 284.95" stroke="#6ea6fa" stroke-width="1.2" fill="none"/><path d="M340.89 281.51L346.69 281.51M341.74 279.46L345.84 283.56M343.79 278.61L343.79 284.41M345.84 279.46L341.74 283.56" stroke="#6ea6fa" stroke-width="1.2" fill="none"/><path d="M363.1 259.62L368.9 259.62M363.94 257.57L368.05 261.67M366 256.72L366 262.52M368.05 257.57L363.94 261.67" stroke="#6ea6fa" stroke-width="1.2" fill="none"/><path d="M409.93 214.7L415.73 214.7M410.78 212.65L414.88 216.75M412.83 211.8L412.83 217.6M414.88 212.65L410.78 216.75" stroke="#6ea6fa" stroke-width="1.2" fill="none"/><polyline points="279.63,343.7 289.37,333.38 298.58,324.8 301.15,322.22 306.5,317.57 313.67,309.62 315.37,308.07 324.16,299.7 326.2,297.74 334.11,290.25 336.35,287.93 341.97,282.61 343.79,281.21 366,259.22 412.83,214.08" fill="none" stroke="#1e1e30" stroke-width="1.0"/></g>
<text x="362.1" y="369.6" text-anchor="middle" font-size="10.5">SPI3 severity</text>
<text transform="translate(254.8 275.8) rotate(-90)" text-anchor="middle" font-size="10.5">SRI3 severity</text>
<text x="234.61" y="204.7" font-size="15.3">(e)</text>
<clipPath id="clipf"><rect x="506.6" y="209.3" width="177.4" height="134.4"/></clipPath>
<path d="M517.38 343.7v-4M517.38 209.3v4M528.17 343.7v-4M528.17 209.3v4M538.95 343.7v-4M538.95 209.3v4M549.74 343.7v-4M549.74 209.3v4M560.52 343.7v-7M560.52 209.3v7M571.31 343.7v-4M571.31 209.3v4M582.09 343.7v-4M582.09 209.3v4M592.87 343.7v-4M592.87 209.3v4M603.66 343.7v-4M603.66 209.3v4M614.44 343.7v-7M614.44 209.3v7M625.23 343.7v-4M625.23 209.3v4M636.01 343.7v-4M636.01 209.3v4M646.79 343.7v-4M646.79 209.3v4M657.58 343.7v-4M657.58 209.3v4M668.36 343.7v-7M668.36 209.3v7M679.15 343.7v-4M679.15 209.3v4M506.6 339.63h4M684 339.63h-4M506.6 335.55h4M684 335.55h-4M506.6 331.48h4M684 331.48h-4M506.6 327.41h4M684 327.41h-4M506.6 323.34h7M684 323.34h-7M506.6 319.26h4M684 319.26h-4M506.6 315.19h4M684 315.19h-4M506.6 311.12h4M684 311.12h-4M506.6 307.05h4M684 307.05h-4M506.6 302.97h7M684 302.97h-7M506.6 298.9h4M684 298.9h-4M506.6 294.83h4M684 294.83h-4M506.6 290.75h4M684 290.75h-4M506.6 286.68h4M684 286.68h-4M506.6 282.61h7M684 282.61h-7M506.6 278.54h4M684 278.54h-4M506.6 274.46h4M684 274.46h-4M506.6 270.39h4M684 270.39h-4M506.6 266.32h4M684 266.32h-4M506.6 262.25h7M684 262.25h-7M506.6 258.17h4M684 258.17h-4M506.6 254.1h4M684 254.1h-4M506.6 250.03h4M684 250.03h-4M506.6 245.95h4M684 245.95h-4M506.6 241.88h7M684 241.88h-7M506.6 237.81h4M684 237.81h-4M506.6 233.74h4M684 233.74h-4M506.6 229.66h4M684 229.66h-4M506.6 225.59h4M684 225.59h-4M506.6 221.52h7M684 221.52h-7M506.6 217.45h4M684 217.45h-4M506.6 213.37h4M684 213.37h-4" stroke="#5e5e5e" stroke-width="0.9" fill="none"/>
<text x="506.9" y="357.8" text-anchor="middle" font-size="11.0">0</text>
<text x="560.82" y="357.8" text-anchor="middle" font-size="11.0">10</text>
<text x="614.74" y="357.8" text-anchor="middle" font-size="11.0">20</text>
<text x="668.66" y="357.8" text-anchor="middle" font-size="11.0">30</text>
<text x="503.2" y="347.6" text-anchor="end" font-size="11.0">0</text>
<text x="503.2" y="327.24" text-anchor="end" font-size="11.0">5</text>
<text x="503.2" y="306.87" text-anchor="end" font-size="11.0">10</text>
<text x="503.2" y="286.51" text-anchor="end" font-size="11.0">15</text>
<text x="503.2" y="266.15" text-anchor="end" font-size="11.0">20</text>
<text x="503.2" y="245.78" text-anchor="end" font-size="11.0">25</text>
<text x="503.2" y="225.42" text-anchor="end" font-size="11.0">30</text>
<rect x="506.6" y="209.3" width="177.4" height="134.4" fill="none" stroke="#888888" stroke-width="1.05"/>
<g clip-path="url(#clipf)"><line x1="506.6" y1="343.7" x2="684" y2="209.71" stroke="#d6d6d6" stroke-width="0.7"/></g>
<g fill="none" stroke="#3a3a3a" stroke-width="0.9"><circle cx="510.21" cy="340.69" r="1.85"/><circle cx="512.48" cy="339.51" r="1.85"/><circle cx="511.35" cy="343.01" r="1.85"/><circle cx="516.36" cy="325.82" r="1.85"/><circle cx="524.18" cy="340.69" r="1.85"/><circle cx="525.96" cy="334.78" r="1.85"/><circle cx="531.78" cy="334.78" r="1.85"/><circle cx="533.88" cy="332.87" r="1.85"/><circle cx="531.78" cy="304.44" r="1.85"/><circle cx="541.06" cy="303.22" r="1.85"/><circle cx="543.16" cy="331.89" r="1.85"/><circle cx="550.11" cy="334.5" r="1.85"/><circle cx="550.44" cy="311.24" r="1.85"/><circle cx="553.13" cy="308.23" r="1.85"/><circle cx="565" cy="313.72" r="1.85"/><circle cx="571.68" cy="254.14" r="1.85"/><circle cx="603.55" cy="212.76" r="1.85"/><circle cx="615.36" cy="262.73" r="1.85"/></g>
<g clip-path="url(#clipf)"><polyline points="513.07,344.11 516.58,340.39 524.77,331.18 528.28,327.79 532.37,323.98 534.05,322.43 541.65,313.32 551.03,304.07 552.16,303.31 565,290.76 572.01,283.66 603.55,252.22 615.95,240.78" fill="none" stroke="#f04656" stroke-width="1.2" stroke-dasharray="2.3 0.9"/><polyline points="513.07,343.7 516.58,340.08 524.77,331.07 528.28,327.78 532.37,324.07 534.05,322.56 541.65,313.64 551.03,304.64 552.16,303.91 565,291.69 572.01,284.77 603.55,254.14 615.95,243.02" fill="none" stroke="#6ea6fa" stroke-width="1.3"/><path d="M513.68 340.08L519.48 340.08M514.52 338.02L518.63 342.13M516.58 337.18L516.58 342.98M518.63 338.02L514.52 342.13" stroke="#6ea6fa" stroke-width="1.2" fill="none"/><path d="M521.87 331.07L527.67 331.07M522.72 329.02L526.82 333.13M524.77 328.17L524.77 333.97M526.82 329.02L522.72 333.13" stroke="#6ea6fa" stroke-width="1.2" fill="none"/><path d="M525.38 327.78L531.18 327.78M526.23 325.73L530.33 329.83M528.28 324.88L528.28 330.68M530.33 325.73L526.23 329.83" stroke="#6ea6fa" stroke-width="1.2" fill="none"/><path d="M529.47 324.07L535.27 324.07M530.32 322.02L534.42 326.12M532.37 321.17L532.37 326.97M534.42 322.02L530.32 326.12" stroke="#6ea6fa" stroke-width="1.2" fill="none"/><path d="M531.15 322.56L536.95 322.56M532 320.51L536.1 324.61M534.05 319.66L534.05 325.46M536.1 320.51L532 324.61" stroke="#6ea6fa" stroke-width="1.2" fill="none"/><path d="M538.75 313.64L544.55 313.64M539.6 311.59L543.7 315.69M541.65 310.74L541.65 316.54M543.7 311.59L539.6 315.69" stroke="#6ea6fa" stroke-width="1.2" fill="none"/><path d="M548.13 304.64L553.93 304.64M548.98 302.59L553.08 306.69M551.03 301.74L551.03 307.54M553.08 302.59L548.98 306.69" stroke="#6ea6fa" stroke-width="1.2" fill="none"/><path d="M549.26 303.91L555.06 303.91M550.11 301.86L554.21 305.96M552.16 301.01L552.16 306.81M554.21 301.86L550.11 305.96" stroke="#6ea6fa" stroke-width="1.2" fill="none"/><path d="M562.1 291.69L567.9 291.69M562.95 289.64L567.05 293.74M565 288.79L565 294.59M567.05 289.64L562.95 293.74" stroke="#6ea6fa" stroke-width="1.2" fill="none"/><path d="M569.11 284.77L574.91 284.77M569.96 282.72L574.06 286.82M572.01 281.87L572.01 287.67M574.06 282.72L569.96 286.82" stroke="#6ea6fa" stroke-width="1.2" fill="none"/><path d="M600.65 254.14L606.45 254.14M601.5 252.09L605.6 256.19M603.55 251.24L603.55 257.04M605.6 252.09L601.5 256.19" stroke="#6ea6fa" stroke-width="1.2" fill="none"/><path d="M613.05 243.02L618.85 243.02M613.9 240.97L618 245.07M615.95 240.12L615.95 245.92M618 240.97L613.9 245.07" stroke="#6ea6fa" stroke-width="1.2" fill="none"/><polyline points="513.07,343.7 516.58,340.05 524.77,330.98 528.28,327.66 532.37,323.92 534.05,322.4 541.65,313.42 551.03,304.34 552.16,303.6 565,291.28 572.01,284.3 603.55,253.42 615.95,242.21" fill="none" stroke="#1e1e30" stroke-width="1.0"/></g>
<text x="595.5" y="369.6" text-anchor="middle" font-size="10.5">SPI3 severity</text>
<text transform="translate(488 275.8) rotate(-90)" text-anchor="middle" font-size="10.5">SRI3 severity</text>
<text x="471.31" y="204.7" font-size="15.3">(f)</text>
<clipPath id="clipg"><rect x="39.6" y="396.5" width="177.2" height="134.4"/></clipPath>
<path d="M49.18 530.9v-4M49.18 396.5v4M58.76 530.9v-4M58.76 396.5v4M68.34 530.9v-4M68.34 396.5v4M77.91 530.9v-4M77.91 396.5v4M87.49 530.9v-7M87.49 396.5v7M97.07 530.9v-4M97.07 396.5v4M106.65 530.9v-4M106.65 396.5v4M116.23 530.9v-4M116.23 396.5v4M125.81 530.9v-4M125.81 396.5v4M135.38 530.9v-7M135.38 396.5v7M144.96 530.9v-4M144.96 396.5v4M154.54 530.9v-4M154.54 396.5v4M164.12 530.9v-4M164.12 396.5v4M173.7 530.9v-4M173.7 396.5v4M183.28 530.9v-7M183.28 396.5v7M192.85 530.9v-4M192.85 396.5v4M202.43 530.9v-4M202.43 396.5v4M212.01 530.9v-4M212.01 396.5v4M39.6 523.64h4M216.8 523.64h-4M39.6 516.37h4M216.8 516.37h-4M39.6 509.11h4M216.8 509.11h-4M39.6 501.84h4M216.8 501.84h-4M39.6 494.58h7M216.8 494.58h-7M39.6 487.31h4M216.8 487.31h-4M39.6 480.05h4M216.8 480.05h-4M39.6 472.78h4M216.8 472.78h-4M39.6 465.52h4M216.8 465.52h-4M39.6 458.25h7M216.8 458.25h-7M39.6 450.99h4M216.8 450.99h-4M39.6 443.72h4M216.8 443.72h-4M39.6 436.46h4M216.8 436.46h-4M39.6 429.19h4M216.8 429.19h-4M39.6 421.93h7M216.8 421.93h-7M39.6 414.66h4M216.8 414.66h-4M39.6 407.4h4M216.8 407.4h-4M39.6 400.13h4M216.8 400.13h-4" stroke="#5e5e5e" stroke-width="0.9" fill="none"/>
<text x="39.9" y="545" text-anchor="middle" font-size="11.0">0</text>
<text x="87.79" y="545" text-anchor="middle" font-size="11.0">10</text>
<text x="135.68" y="545" text-anchor="middle" font-size="11.0">20</text>
<text x="183.58" y="545" text-anchor="middle" font-size="11.0">30</text>
<text x="36.2" y="534.8" text-anchor="end" font-size="11.0">0</text>
<text x="36.2" y="498.48" text-anchor="end" font-size="11.0">10</text>
<text x="36.2" y="462.15" text-anchor="end" font-size="11.0">20</text>
<text x="36.2" y="425.83" text-anchor="end" font-size="11.0">30</text>
<rect x="39.6" y="396.5" width="177.2" height="134.4" fill="none" stroke="#888888" stroke-width="1.05"/>
<g clip-path="url(#clipg)"><line x1="39.6" y1="530.9" x2="216.8" y2="396.5" stroke="#d6d6d6" stroke-width="0.7"/></g>
<g fill="none" stroke="#3a3a3a" stroke-width="0.9"><circle cx="53.97" cy="520" r="1.85"/><circle cx="63.55" cy="516.37" r="1.85"/><circle cx="73.12" cy="501.84" r="1.85"/><circle cx="87.49" cy="498.21" r="1.85"/><circle cx="92.28" cy="487.31" r="1.85"/><circle cx="92.28" cy="494.58" r="1.85"/><circle cx="97.07" cy="490.94" r="1.85"/><circle cx="101.86" cy="483.68" r="1.85"/><circle cx="130.59" cy="461.88" r="1.85"/><circle cx="173.7" cy="400.13" r="1.85"/></g>
<g clip-path="url(#clipg)"><polyline points="53.97,524.51 63.55,515.69 73.12,507.25 87.49,493.46 92.28,489.4 97.07,485.41 101.86,480.95 130.59,454.88 173.7,417.2" fill="none" stroke="#f04656" stroke-width="1.2" stroke-dasharray="2.3 0.9"/><polyline points="53.97,523.42 63.55,515.03 73.12,507 87.49,493.85 92.28,490 97.07,486.22 101.86,481.97 130.59,457.16 173.7,421.38" fill="none" stroke="#6ea6fa" stroke-width="1.3"/><path d="M51.07 523.42L56.87 523.42M51.92 521.37L56.02 525.47M53.97 520.52L53.97 526.32M56.02 521.37L51.92 525.47" stroke="#6ea6fa" stroke-width="1.2" fill="none"/><path d="M60.65 515.03L66.45 515.03M61.5 512.98L65.6 517.08M63.55 512.13L63.55 517.93M65.6 512.98L61.5 517.08" stroke="#6ea6fa" stroke-width="1.2" fill="none"/><path d="M70.22 507L76.02 507M71.07 504.95L75.17 509.05M73.12 504.1L73.12 509.9M75.17 504.95L71.07 509.05" stroke="#6ea6fa" stroke-width="1.2" fill="none"/><path d="M84.59 493.85L90.39 493.85M85.44 491.8L89.54 495.9M87.49 490.95L87.49 496.75M89.54 491.8L85.44 495.9" stroke="#6ea6fa" stroke-width="1.2" fill="none"/><path d="M89.38 490L95.18 490M90.23 487.95L94.33 492.05M92.28 487.1L92.28 492.9M94.33 487.95L90.23 492.05" stroke="#6ea6fa" stroke-width="1.2" fill="none"/><path d="M94.17 486.22L99.97 486.22M95.02 484.17L99.12 488.27M97.07 483.32L97.07 489.12M99.12 484.17L95.02 488.27" stroke="#6ea6fa" stroke-width="1.2" fill="none"/><path d="M98.96 481.97L104.76 481.97M99.81 479.92L103.91 484.02M101.86 479.07L101.86 484.87M103.91 479.92L99.81 484.02" stroke="#6ea6fa" stroke-width="1.2" fill="none"/><path d="M127.69 457.16L133.49 457.16M128.54 455.11L132.65 459.21M130.59 454.26L130.59 460.06M132.65 455.11L128.54 459.21" stroke="#6ea6fa" stroke-width="1.2" fill="none"/><path d="M170.8 421.38L176.6 421.38M171.65 419.33L175.75 423.43M173.7 418.48L173.7 424.28M175.75 419.33L171.65 423.43" stroke="#6ea6fa" stroke-width="1.2" fill="none"/><polyline points="53.97,523.78 63.55,515.19 73.12,506.96 87.49,493.5 92.28,489.55 97.07,485.67 101.86,481.32 130.59,455.9 173.7,419.2" fill="none" stroke="#1e1e30" stroke-width="1.0"/></g>
<text x="129.7" y="556.8" text-anchor="middle" font-size="10.5">SPI6 duration (month)</text>
<text transform="translate(21 463) rotate(-90)" text-anchor="middle" font-size="10.5">SRI6 duration (month)</text>
<text x="0.91" y="391.5" font-size="15.3">(g)</text>
<rect x="127.3" y="471.2" width="85.1" height="53.2" fill="#fff" stroke="#6e6e6e" stroke-width="1.1"/>
<line x1="130.1" y1="477.2" x2="155.1" y2="477.2" stroke="#d6d6d6" stroke-width="0.7"/>
<circle cx="142.6" cy="487.5" r="1.85" fill="none" stroke="#3a3a3a" stroke-width="0.9"/>
<line x1="130.1" y1="497.8" x2="155.1" y2="497.8" stroke="#f04656" stroke-width="1.2" stroke-dasharray="2.3 0.9"/>
<line x1="130.1" y1="508.1" x2="155.1" y2="508.1" stroke="#6ea6fa" stroke-width="1.1"/>
<path d="M139.7 508.1L145.5 508.1M140.55 506.05L144.65 510.15M142.6 505.2L142.6 511M144.65 506.05L140.55 510.15" stroke="#6ea6fa" stroke-width="1.2" fill="none"/>
<line x1="130.1" y1="518.4" x2="155.1" y2="518.4" stroke="#222230" stroke-width="0.85"/>
<text x="157.7" y="480.6" font-size="8.75">1:1 line</text>
<text x="157.7" y="490.9" font-size="8.75">Data points</text>
<text x="157.7" y="501.2" font-size="8.75">Linear</text>
<text x="157.7" y="511.5" font-size="8.75">log</text>
<text x="157.7" y="521.8" font-size="8.75">Model average</text>
<clipPath id="cliph"><rect x="273.4" y="396.5" width="177" height="134.4"/></clipPath>
<path d="M282.97 530.9v-4M282.97 396.5v4M292.54 530.9v-4M292.54 396.5v4M302.1 530.9v-4M302.1 396.5v4M311.67 530.9v-4M311.67 396.5v4M321.24 530.9v-7M321.24 396.5v7M330.81 530.9v-4M330.81 396.5v4M340.37 530.9v-4M340.37 396.5v4M349.94 530.9v-4M349.94 396.5v4M359.51 530.9v-4M359.51 396.5v4M369.08 530.9v-7M369.08 396.5v7M378.64 530.9v-4M378.64 396.5v4M388.21 530.9v-4M388.21 396.5v4M397.78 530.9v-4M397.78 396.5v4M407.35 530.9v-4M407.35 396.5v4M416.91 530.9v-7M416.91 396.5v7M426.48 530.9v-4M426.48 396.5v4M436.05 530.9v-4M436.05 396.5v4M445.62 530.9v-4M445.62 396.5v4M273.4 523.64h4M450.4 523.64h-4M273.4 516.37h4M450.4 516.37h-4M273.4 509.11h4M450.4 509.11h-4M273.4 501.84h4M450.4 501.84h-4M273.4 494.58h7M450.4 494.58h-7M273.4 487.31h4M450.4 487.31h-4M273.4 480.05h4M450.4 480.05h-4M273.4 472.78h4M450.4 472.78h-4M273.4 465.52h4M450.4 465.52h-4M273.4 458.25h7M450.4 458.25h-7M273.4 450.99h4M450.4 450.99h-4M273.4 443.72h4M450.4 443.72h-4M273.4 436.46h4M450.4 436.46h-4M273.4 429.19h4M450.4 429.19h-4M273.4 421.93h7M450.4 421.93h-7M273.4 414.66h4M450.4 414.66h-4M273.4 407.4h4M450.4 407.4h-4M273.4 400.13h4M450.4 400.13h-4" stroke="#5e5e5e" stroke-width="0.9" fill="none"/>
<text x="273.7" y="545" text-anchor="middle" font-size="11.0">0</text>
<text x="321.54" y="545" text-anchor="middle" font-size="11.0">10</text>
<text x="369.38" y="545" text-anchor="middle" font-size="11.0">20</text>
<text x="417.21" y="545" text-anchor="middle" font-size="11.0">30</text>
<text x="270" y="534.8" text-anchor="end" font-size="11.0">0</text>
<text x="270" y="498.48" text-anchor="end" font-size="11.0">10</text>
<text x="270" y="462.15" text-anchor="end" font-size="11.0">20</text>
<text x="270" y="425.83" text-anchor="end" font-size="11.0">30</text>
<rect x="273.4" y="396.5" width="177" height="134.4" fill="none" stroke="#888888" stroke-width="1.05"/>
<g clip-path="url(#cliph)"><line x1="273.4" y1="530.9" x2="450.4" y2="396.5" stroke="#d6d6d6" stroke-width="0.7"/></g>
<g fill="none" stroke="#3a3a3a" stroke-width="0.9"><circle cx="287.75" cy="516.37" r="1.85"/><circle cx="292.54" cy="520" r="1.85"/><circle cx="297.32" cy="516.37" r="1.85"/><circle cx="306.89" cy="505.47" r="1.85"/><circle cx="306.89" cy="512.74" r="1.85"/><circle cx="321.24" cy="480.05" r="1.85"/><circle cx="321.24" cy="487.31" r="1.85"/><circle cx="321.24" cy="498.21" r="1.85"/><circle cx="326.02" cy="498.21" r="1.85"/><circle cx="330.81" cy="505.47" r="1.85"/><circle cx="335.59" cy="490.94" r="1.85"/><circle cx="340.37" cy="476.41" r="1.85"/><circle cx="359.51" cy="469.15" r="1.85"/><circle cx="421.7" cy="400.13" r="1.85"/></g>
<g clip-path="url(#cliph)"><polyline points="287.75,525.09 292.54,520.69 297.32,516.22 306.89,507.36 321.24,495.01 326.02,490.83 330.81,486.77 335.59,482.66 340.37,478.48 359.51,461.99 421.7,409" fill="none" stroke="#f04656" stroke-width="1.2" stroke-dasharray="2.3 0.9"/><polyline points="287.75,524 292.54,519.78 297.32,515.5 306.89,507 321.24,495.19 326.02,491.2 330.81,487.31 335.59,483.39 340.37,479.39 359.51,463.63 421.7,412.99" fill="none" stroke="#6ea6fa" stroke-width="1.3"/><path d="M284.85 524L290.65 524M285.7 521.95L289.8 526.05M287.75 521.1L287.75 526.9M289.8 521.95L285.7 526.05" stroke="#6ea6fa" stroke-width="1.2" fill="none"/><path d="M289.64 519.78L295.44 519.78M290.48 517.73L294.59 521.84M292.54 516.88L292.54 522.68M294.59 517.73L290.48 521.84" stroke="#6ea6fa" stroke-width="1.2" fill="none"/><path d="M294.42 515.5L300.22 515.5M295.27 513.45L299.37 517.55M297.32 512.6L297.32 518.4M299.37 513.45L295.27 517.55" stroke="#6ea6fa" stroke-width="1.2" fill="none"/><path d="M303.99 507L309.79 507M304.84 504.95L308.94 509.05M306.89 504.1L306.89 509.9M308.94 504.95L304.84 509.05" stroke="#6ea6fa" stroke-width="1.2" fill="none"/><path d="M318.34 495.19L324.14 495.19M319.19 493.14L323.29 497.24M321.24 492.29L321.24 498.09M323.29 493.14L319.19 497.24" stroke="#6ea6fa" stroke-width="1.2" fill="none"/><path d="M323.12 491.2L328.92 491.2M323.97 489.15L328.07 493.25M326.02 488.3L326.02 494.1M328.07 489.15L323.97 493.25" stroke="#6ea6fa" stroke-width="1.2" fill="none"/><path d="M327.91 487.31L333.71 487.31M328.75 485.26L332.86 489.36M330.81 484.41L330.81 490.21M332.86 485.26L328.75 489.36" stroke="#6ea6fa" stroke-width="1.2" fill="none"/><path d="M332.69 483.39L338.49 483.39M333.54 481.34L337.64 485.44M335.59 480.49L335.59 486.29M337.64 481.34L333.54 485.44" stroke="#6ea6fa" stroke-width="1.2" fill="none"/><path d="M337.47 479.39L343.27 479.39M338.32 477.34L342.42 481.44M340.37 476.49L340.37 482.29M342.42 477.34L338.32 481.44" stroke="#6ea6fa" stroke-width="1.2" fill="none"/><path d="M356.61 463.63L362.41 463.63M357.46 461.58L361.56 465.68M359.51 460.73L359.51 466.53M361.56 461.58L357.46 465.68" stroke="#6ea6fa" stroke-width="1.2" fill="none"/><path d="M418.8 412.99L424.6 412.99M419.65 410.94L423.75 415.04M421.7 410.09L421.7 415.89M423.75 410.94L419.65 415.04" stroke="#6ea6fa" stroke-width="1.2" fill="none"/><polyline points="287.75,524.36 292.54,520.07 297.32,515.71 306.89,507.05 321.24,495.01 326.02,490.94 330.81,486.97 335.59,482.97 340.37,478.9 359.51,462.82 421.7,411.18" fill="none" stroke="#1e1e30" stroke-width="1.0"/></g>
<text x="363.4" y="556.8" text-anchor="middle" font-size="10.5">SPI6 duration (month)</text>
<text transform="translate(254.8 463) rotate(-90)" text-anchor="middle" font-size="10.5">SRI6 duration (month)</text>
<text x="234.61" y="391.5" font-size="15.3">(h)</text>
<clipPath id="clipi"><rect x="506.6" y="396.5" width="177.4" height="134.4"/></clipPath>
<path d="M516.19 530.9v-4M516.19 396.5v4M525.78 530.9v-4M525.78 396.5v4M535.37 530.9v-4M535.37 396.5v4M544.96 530.9v-4M544.96 396.5v4M554.55 530.9v-7M554.55 396.5v7M564.14 530.9v-4M564.14 396.5v4M573.72 530.9v-4M573.72 396.5v4M583.31 530.9v-4M583.31 396.5v4M592.9 530.9v-4M592.9 396.5v4M602.49 530.9v-7M602.49 396.5v7M612.08 530.9v-4M612.08 396.5v4M621.67 530.9v-4M621.67 396.5v4M631.26 530.9v-4M631.26 396.5v4M640.85 530.9v-4M640.85 396.5v4M650.44 530.9v-7M650.44 396.5v7M660.03 530.9v-4M660.03 396.5v4M669.62 530.9v-4M669.62 396.5v4M679.21 530.9v-4M679.21 396.5v4M506.6 523.64h4M684 523.64h-4M506.6 516.37h4M684 516.37h-4M506.6 509.11h4M684 509.11h-4M506.6 501.84h4M684 501.84h-4M506.6 494.58h7M684 494.58h-7M506.6 487.31h4M684 487.31h-4M506.6 480.05h4M684 480.05h-4M506.6 472.78h4M684 472.78h-4M506.6 465.52h4M684 465.52h-4M506.6 458.25h7M684 458.25h-7M506.6 450.99h4M684 450.99h-4M506.6 443.72h4M684 443.72h-4M506.6 436.46h4M684 436.46h-4M506.6 429.19h4M684 429.19h-4M506.6 421.93h7M684 421.93h-7M506.6 414.66h4M684 414.66h-4M506.6 407.4h4M684 407.4h-4M506.6 400.13h4M684 400.13h-4" stroke="#5e5e5e" stroke-width="0.9" fill="none"/>
<text x="506.9" y="545" text-anchor="middle" font-size="11.0">0</text>
<text x="554.85" y="545" text-anchor="middle" font-size="11.0">10</text>
<text x="602.79" y="545" text-anchor="middle" font-size="11.0">20</text>
<text x="650.74" y="545" text-anchor="middle" font-size="11.0">30</text>
<text x="503.2" y="534.8" text-anchor="end" font-size="11.0">0</text>
<text x="503.2" y="498.48" text-anchor="end" font-size="11.0">10</text>
<text x="503.2" y="462.15" text-anchor="end" font-size="11.0">20</text>
<text x="503.2" y="425.83" text-anchor="end" font-size="11.0">30</text>
<rect x="506.6" y="396.5" width="177.4" height="134.4" fill="none" stroke="#888888" stroke-width="1.05"/>
<g clip-path="url(#clipi)"><line x1="506.6" y1="530.9" x2="684" y2="396.5" stroke="#d6d6d6" stroke-width="0.7"/></g>
<g fill="none" stroke="#3a3a3a" stroke-width="0.9"><circle cx="520.98" cy="516.37" r="1.85"/><circle cx="520.98" cy="523.64" r="1.85"/><circle cx="525.78" cy="520" r="1.85"/><circle cx="530.57" cy="520" r="1.85"/><circle cx="535.37" cy="520" r="1.85"/><circle cx="535.37" cy="505.47" r="1.85"/><circle cx="549.75" cy="509.11" r="1.85"/><circle cx="554.55" cy="498.21" r="1.85"/><circle cx="554.55" cy="487.31" r="1.85"/><circle cx="554.55" cy="476.41" r="1.85"/><circle cx="564.14" cy="476.41" r="1.85"/><circle cx="573.72" cy="487.31" r="1.85"/><circle cx="592.9" cy="469.15" r="1.85"/><circle cx="664.82" cy="400.13" r="1.85"/></g>
<g clip-path="url(#clipi)"><polyline points="520.98,523.05 525.78,519.32 530.57,514.97 535.37,510.76 549.75,498.21 554.55,494.18 564.14,485.98 573.72,477.61 592.9,461.07 664.82,402.31" fill="none" stroke="#f04656" stroke-width="1.2" stroke-dasharray="2.3 0.9"/><polyline points="520.98,522.51 525.78,518.8 530.57,514.48 535.37,510.3 549.75,497.84 554.55,493.85 564.14,485.71 573.72,477.39 592.9,460.98 664.82,402.68" fill="none" stroke="#6ea6fa" stroke-width="1.3"/><path d="M518.08 522.51L523.88 522.51M518.93 520.46L523.03 524.56M520.98 519.61L520.98 525.41M523.03 520.46L518.93 524.56" stroke="#6ea6fa" stroke-width="1.2" fill="none"/><path d="M522.88 518.8L528.68 518.8M523.73 516.75L527.83 520.85M525.78 515.9L525.78 521.7M527.83 516.75L523.73 520.85" stroke="#6ea6fa" stroke-width="1.2" fill="none"/><path d="M527.67 514.48L533.47 514.48M528.52 512.43L532.62 516.53M530.57 511.58L530.57 517.38M532.62 512.43L528.52 516.53" stroke="#6ea6fa" stroke-width="1.2" fill="none"/><path d="M532.47 510.3L538.27 510.3M533.32 508.25L537.42 512.35M535.37 507.4L535.37 513.2M537.42 508.25L533.32 512.35" stroke="#6ea6fa" stroke-width="1.2" fill="none"/><path d="M546.85 497.84L552.65 497.84M547.7 495.79L551.8 499.9M549.75 494.94L549.75 500.74M551.8 495.79L547.7 499.9" stroke="#6ea6fa" stroke-width="1.2" fill="none"/><path d="M551.65 493.85L557.45 493.85M552.5 491.8L556.6 495.9M554.55 490.95L554.55 496.75M556.6 491.8L552.5 495.9" stroke="#6ea6fa" stroke-width="1.2" fill="none"/><path d="M561.24 485.71L567.04 485.71M562.08 483.66L566.19 487.76M564.14 482.81L564.14 488.61M566.19 483.66L562.08 487.76" stroke="#6ea6fa" stroke-width="1.2" fill="none"/><path d="M570.82 477.39L576.62 477.39M571.67 475.34L575.77 479.44M573.72 474.49L573.72 480.29M575.77 475.34L571.67 479.44" stroke="#6ea6fa" stroke-width="1.2" fill="none"/><path d="M590 460.98L595.8 460.98M590.85 458.93L594.95 463.03M592.9 458.08L592.9 463.88M594.95 458.93L590.85 463.03" stroke="#6ea6fa" stroke-width="1.2" fill="none"/><path d="M661.92 402.68L667.72 402.68M662.77 400.62L666.87 404.73M664.82 399.78L664.82 405.58M666.87 400.62L662.77 404.73" stroke="#6ea6fa" stroke-width="1.2" fill="none"/><polyline points="520.98,522.69 525.78,518.97 530.57,514.64 535.37,510.45 549.75,497.95 554.55,493.95 564.14,485.79 573.72,477.44 592.9,460.98 664.82,402.49" fill="none" stroke="#1e1e30" stroke-width="1.0"/></g>
<text x="596.8" y="556.8" text-anchor="middle" font-size="10.5">SPI6 duration (month)</text>
<text transform="translate(488 463) rotate(-90)" text-anchor="middle" font-size="10.5">SRI6 duration (month)</text>
<text x="471.31" y="391.5" font-size="15.3">(i)</text>
<clipPath id="clipj"><rect x="39.6" y="583.7" width="177.2" height="134.6"/></clipPath>
<path d="M46.44 718.3v-4M46.44 583.7v4M53.28 718.3v-4M53.28 583.7v4M60.13 718.3v-4M60.13 583.7v4M66.97 718.3v-4M66.97 583.7v4M73.81 718.3v-7M73.81 583.7v7M80.65 718.3v-4M80.65 583.7v4M87.49 718.3v-4M87.49 583.7v4M94.33 718.3v-4M94.33 583.7v4M101.18 718.3v-4M101.18 583.7v4M108.02 718.3v-7M108.02 583.7v7M114.86 718.3v-4M114.86 583.7v4M121.7 718.3v-4M121.7 583.7v4M128.54 718.3v-4M128.54 583.7v4M135.38 718.3v-4M135.38 583.7v4M142.23 718.3v-7M142.23 583.7v7M149.07 718.3v-4M149.07 583.7v4M155.91 718.3v-4M155.91 583.7v4M162.75 718.3v-4M162.75 583.7v4M169.59 718.3v-4M169.59 583.7v4M176.43 718.3v-7M176.43 583.7v7M183.28 718.3v-4M183.28 583.7v4M190.12 718.3v-4M190.12 583.7v4M196.96 718.3v-4M196.96 583.7v4M203.8 718.3v-4M203.8 583.7v4M210.64 718.3v-7M210.64 583.7v7M39.6 713.1h4M216.8 713.1h-4M39.6 707.91h4M216.8 707.91h-4M39.6 702.71h4M216.8 702.71h-4M39.6 697.51h4M216.8 697.51h-4M39.6 692.32h7M216.8 692.32h-7M39.6 687.12h4M216.8 687.12h-4M39.6 681.92h4M216.8 681.92h-4M39.6 676.72h4M216.8 676.72h-4M39.6 671.53h4M216.8 671.53h-4M39.6 666.33h7M216.8 666.33h-7M39.6 661.13h4M216.8 661.13h-4M39.6 655.94h4M216.8 655.94h-4M39.6 650.74h4M216.8 650.74h-4M39.6 645.54h4M216.8 645.54h-4M39.6 640.35h7M216.8 640.35h-7M39.6 635.15h4M216.8 635.15h-4M39.6 629.95h4M216.8 629.95h-4M39.6 624.76h4M216.8 624.76h-4M39.6 619.56h4M216.8 619.56h-4M39.6 614.36h7M216.8 614.36h-7M39.6 609.16h4M216.8 609.16h-4M39.6 603.97h4M216.8 603.97h-4M39.6 598.77h4M216.8 598.77h-4M39.6 593.57h4M216.8 593.57h-4M39.6 588.38h7M216.8 588.38h-7" stroke="#5e5e5e" stroke-width="0.9" fill="none"/>
<text x="39.9" y="732.4" text-anchor="middle" font-size="11.0">0</text>
<text x="74.11" y="732.4" text-anchor="middle" font-size="11.0">5</text>
<text x="108.32" y="732.4" text-anchor="middle" font-size="11.0">10</text>
<text x="142.53" y="732.4" text-anchor="middle" font-size="11.0">15</text>
<text x="176.73" y="732.4" text-anchor="middle" font-size="11.0">20</text>
<text x="210.94" y="732.4" text-anchor="middle" font-size="11.0">25</text>
<text x="36.2" y="722.2" text-anchor="end" font-size="11.0">0</text>
<text x="36.2" y="696.22" text-anchor="end" font-size="11.0">5</text>
<text x="36.2" y="670.23" text-anchor="end" font-size="11.0">10</text>
<text x="36.2" y="644.25" text-anchor="end" font-size="11.0">15</text>
<text x="36.2" y="618.26" text-anchor="end" font-size="11.0">20</text>
<text x="36.2" y="592.28" text-anchor="end" font-size="11.0">25</text>
<rect x="39.6" y="583.7" width="177.2" height="134.6" fill="none" stroke="#888888" stroke-width="1.05"/>
<g clip-path="url(#clipj)"><line x1="39.6" y1="718.3" x2="216.8" y2="583.7" stroke="#d6d6d6" stroke-width="0.7"/></g>
<g fill="none" stroke="#3a3a3a" stroke-width="0.9"><circle cx="57.05" cy="707.07" r="1.85"/><circle cx="56.29" cy="711.7" r="1.85"/><circle cx="64.23" cy="709.31" r="1.85"/><circle cx="69.91" cy="709.67" r="1.85"/><circle cx="72.58" cy="693.3" r="1.85"/><circle cx="80.65" cy="685.4" r="1.85"/><circle cx="90.5" cy="690.7" r="1.85"/><circle cx="96.18" cy="684.78" r="1.85"/><circle cx="101.72" cy="661.5" r="1.85"/><circle cx="103.09" cy="647.99" r="1.85"/><circle cx="168.7" cy="595.13" r="1.85"/><circle cx="170.69" cy="588.9" r="1.85"/><circle cx="179.79" cy="618.21" r="1.85"/></g>
<g clip-path="url(#clipj)"><polyline points="56.02,717 56.29,717.05 57.05,716.46 63.96,708.73 69.5,701.44 72.1,698.99 80.65,689.41 89.82,677.99 95.77,672.36 101.93,665.52 168.63,603.58 179.72,594.93" fill="none" stroke="#f04656" stroke-width="1.2" stroke-dasharray="2.3 0.9"/><polyline points="56.02,715.18 56.29,715.23 57.05,714.66 63.96,707.07 69.5,699.9 72.1,697.51 80.65,688.11 89.82,676.88 95.77,671.37 101.93,664.67 168.63,604.12 179.72,595.7" fill="none" stroke="#6ea6fa" stroke-width="1.3"/><path d="M53.39 715.23L59.19 715.23M54.24 713.18L58.34 717.28M56.29 712.33L56.29 718.13M58.34 713.18L54.24 717.28" stroke="#6ea6fa" stroke-width="1.2" fill="none"/><path d="M54.15 714.66L59.95 714.66M55 712.61L59.1 716.71M57.05 711.76L57.05 717.56M59.1 712.61L55 716.71" stroke="#6ea6fa" stroke-width="1.2" fill="none"/><path d="M61.06 707.07L66.86 707.07M61.91 705.02L66.01 709.13M63.96 704.17L63.96 709.97M66.01 705.02L61.91 709.13" stroke="#6ea6fa" stroke-width="1.2" fill="none"/><path d="M66.6 699.9L72.4 699.9M67.45 697.85L71.55 701.95M69.5 697L69.5 702.8M71.55 697.85L67.45 701.95" stroke="#6ea6fa" stroke-width="1.2" fill="none"/><path d="M69.2 697.51L75 697.51M70.05 695.46L74.15 699.56M72.1 694.61L72.1 700.41M74.15 695.46L70.05 699.56" stroke="#6ea6fa" stroke-width="1.2" fill="none"/><path d="M77.75 688.11L83.55 688.11M78.6 686.06L82.7 690.16M80.65 685.21L80.65 691.01M82.7 686.06L78.6 690.16" stroke="#6ea6fa" stroke-width="1.2" fill="none"/><path d="M86.92 676.88L92.72 676.88M87.77 674.83L91.87 678.93M89.82 673.98L89.82 679.78M91.87 674.83L87.77 678.93" stroke="#6ea6fa" stroke-width="1.2" fill="none"/><path d="M92.87 671.37L98.67 671.37M93.72 669.32L97.82 673.42M95.77 668.47L95.77 674.27M97.82 669.32L93.72 673.42" stroke="#6ea6fa" stroke-width="1.2" fill="none"/><path d="M99.03 664.67L104.83 664.67M99.88 662.62L103.98 666.72M101.93 661.77L101.93 667.57M103.98 662.62L99.88 666.72" stroke="#6ea6fa" stroke-width="1.2" fill="none"/><path d="M165.73 604.12L171.53 604.12M166.58 602.07L170.69 606.17M168.63 601.22L168.63 607.02M170.69 602.07L166.58 606.17" stroke="#6ea6fa" stroke-width="1.2" fill="none"/><path d="M176.82 595.7L182.62 595.7M177.67 593.65L181.77 597.76M179.72 592.8L179.72 598.6M181.77 593.65L177.67 597.76" stroke="#6ea6fa" stroke-width="1.2" fill="none"/><polyline points="56.02,715.96 56.29,716.01 57.05,715.43 63.96,707.79 69.5,700.57 72.1,698.16 80.65,688.68 89.82,677.38 95.77,671.82 101.93,665.06 168.63,603.96 179.72,595.45" fill="none" stroke="#1e1e30" stroke-width="1.0"/></g>
<text x="128.4" y="744.2" text-anchor="middle" font-size="10.5">SPI6 severity</text>
<text transform="translate(21 650.3) rotate(-90)" text-anchor="middle" font-size="10.5">SRI6 severity</text>
<text x="-0.29" y="578" font-size="15.3">(j)</text>
<clipPath id="clipk"><rect x="273.4" y="583.7" width="177" height="134.6"/></clipPath>
<path d="M283.89 718.3v-4M283.89 583.7v4M294.38 718.3v-4M294.38 583.7v4M304.87 718.3v-4M304.87 583.7v4M315.36 718.3v-4M315.36 583.7v4M325.84 718.3v-7M325.84 583.7v7M336.33 718.3v-4M336.33 583.7v4M346.82 718.3v-4M346.82 583.7v4M357.31 718.3v-4M357.31 583.7v4M367.8 718.3v-4M367.8 583.7v4M378.29 718.3v-7M378.29 583.7v7M388.78 718.3v-4M388.78 583.7v4M399.27 718.3v-4M399.27 583.7v4M409.76 718.3v-4M409.76 583.7v4M420.24 718.3v-4M420.24 583.7v4M430.73 718.3v-7M430.73 583.7v7M441.22 718.3v-4M441.22 583.7v4M273.4 714.31h4M450.4 714.31h-4M273.4 710.32h4M450.4 710.32h-4M273.4 706.34h4M450.4 706.34h-4M273.4 702.35h4M450.4 702.35h-4M273.4 698.36h7M450.4 698.36h-7M273.4 694.37h4M450.4 694.37h-4M273.4 690.38h4M450.4 690.38h-4M273.4 686.39h4M450.4 686.39h-4M273.4 682.41h4M450.4 682.41h-4M273.4 678.42h7M450.4 678.42h-7M273.4 674.43h4M450.4 674.43h-4M273.4 670.44h4M450.4 670.44h-4M273.4 666.45h4M450.4 666.45h-4M273.4 662.47h4M450.4 662.47h-4M273.4 658.48h7M450.4 658.48h-7M273.4 654.49h4M450.4 654.49h-4M273.4 650.5h4M450.4 650.5h-4M273.4 646.51h4M450.4 646.51h-4M273.4 642.53h4M450.4 642.53h-4M273.4 638.54h7M450.4 638.54h-7M273.4 634.55h4M450.4 634.55h-4M273.4 630.56h4M450.4 630.56h-4M273.4 626.57h4M450.4 626.57h-4M273.4 622.58h4M450.4 622.58h-4M273.4 618.6h7M450.4 618.6h-7M273.4 614.61h4M450.4 614.61h-4M273.4 610.62h4M450.4 610.62h-4M273.4 606.63h4M450.4 606.63h-4M273.4 602.64h4M450.4 602.64h-4M273.4 598.66h7M450.4 598.66h-7M273.4 594.67h4M450.4 594.67h-4M273.4 590.68h4M450.4 590.68h-4M273.4 586.69h4M450.4 586.69h-4" stroke="#5e5e5e" stroke-width="0.9" fill="none"/>
<text x="273.7" y="732.4" text-anchor="middle" font-size="11.0">0</text>
<text x="326.14" y="732.4" text-anchor="middle" font-size="11.0">10</text>
<text x="378.59" y="732.4" text-anchor="middle" font-size="11.0">20</text>
<text x="431.03" y="732.4" text-anchor="middle" font-size="11.0">30</text>
<text x="270" y="722.2" text-anchor="end" font-size="11.0">0</text>
<text x="270" y="702.26" text-anchor="end" font-size="11.0">5</text>
<text x="270" y="682.32" text-anchor="end" font-size="11.0">10</text>
<text x="270" y="662.38" text-anchor="end" font-size="11.0">15</text>
<text x="270" y="642.44" text-anchor="end" font-size="11.0">20</text>
<text x="270" y="622.5" text-anchor="end" font-size="11.0">25</text>
<text x="270" y="602.56" text-anchor="end" font-size="11.0">30</text>
<rect x="273.4" y="583.7" width="177" height="134.6" fill="none" stroke="#888888" stroke-width="1.05"/>
<g clip-path="url(#clipk)"><line x1="273.4" y1="718.3" x2="450.4" y2="583.7" stroke="#d6d6d6" stroke-width="0.7"/></g>
<g fill="none" stroke="#3a3a3a" stroke-width="0.9"><circle cx="284.52" cy="711.4" r="1.85"/><circle cx="288.71" cy="711.2" r="1.85"/><circle cx="292.33" cy="701.91" r="1.85"/><circle cx="293.28" cy="713.99" r="1.85"/><circle cx="297.68" cy="709.17" r="1.85"/><circle cx="311.47" cy="705.86" r="1.85"/><circle cx="315.78" cy="679.14" r="1.85"/><circle cx="318.82" cy="687.15" r="1.85"/><circle cx="320.34" cy="679.54" r="1.85"/><circle cx="330.83" cy="666.37" r="1.85"/><circle cx="376.24" cy="614.09" r="1.85"/><circle cx="373.57" cy="643.64" r="1.85"/><circle cx="390.09" cy="587.33" r="1.85"/></g>
<g clip-path="url(#clipk)"><polyline points="284.89,718.7 287.72,714.72 292.96,709.35 294.9,708.03 297.52,704.65 311.58,688.84 315.09,684.32 319.71,679.62 331.25,667.27 374.2,621.15 376.24,619.5 390.88,604.24" fill="none" stroke="#f04656" stroke-width="1.2" stroke-dasharray="2.3 0.9"/><polyline points="284.89,718.3 287.72,714.39 292.96,709.17 294.9,707.89 297.52,704.58 311.58,689.15 315.09,684.72 319.71,680.13 331.25,668.09 374.2,623.1 376.24,621.51 390.88,606.63" fill="none" stroke="#6ea6fa" stroke-width="1.3"/><path d="M284.82 714.39L290.62 714.39M285.67 712.34L289.77 716.44M287.72 711.49L287.72 717.29M289.77 712.34L285.67 716.44" stroke="#6ea6fa" stroke-width="1.2" fill="none"/><path d="M290.06 709.17L295.86 709.17M290.91 707.12L295.01 711.22M292.96 706.27L292.96 712.07M295.01 707.12L290.91 711.22" stroke="#6ea6fa" stroke-width="1.2" fill="none"/><path d="M292 707.89L297.8 707.89M292.85 705.84L296.95 709.94M294.9 704.99L294.9 710.79M296.95 705.84L292.85 709.94" stroke="#6ea6fa" stroke-width="1.2" fill="none"/><path d="M294.62 704.58L300.42 704.58M295.47 702.53L299.58 706.63M297.52 701.68L297.52 707.48M299.58 702.53L295.47 706.63" stroke="#6ea6fa" stroke-width="1.2" fill="none"/><path d="M308.68 689.15L314.48 689.15M309.53 687.1L313.63 691.2M311.58 686.25L311.58 692.05M313.63 687.1L309.53 691.2" stroke="#6ea6fa" stroke-width="1.2" fill="none"/><path d="M312.19 684.72L317.99 684.72M313.04 682.67L317.14 686.77M315.09 681.82L315.09 687.62M317.14 682.67L313.04 686.77" stroke="#6ea6fa" stroke-width="1.2" fill="none"/><path d="M316.81 680.13L322.61 680.13M317.66 678.08L321.76 682.18M319.71 677.23L319.71 683.03M321.76 678.08L317.66 682.18" stroke="#6ea6fa" stroke-width="1.2" fill="none"/><path d="M328.35 668.09L334.15 668.09M329.2 666.04L333.3 670.14M331.25 665.19L331.25 670.99M333.3 666.04L329.2 670.14" stroke="#6ea6fa" stroke-width="1.2" fill="none"/><path d="M371.3 623.1L377.1 623.1M372.15 621.05L376.25 625.15M374.2 620.2L374.2 626M376.25 621.05L372.15 625.15" stroke="#6ea6fa" stroke-width="1.2" fill="none"/><path d="M373.34 621.51L379.14 621.51M374.19 619.46L378.29 623.56M376.24 618.61L376.24 624.41M378.29 619.46L374.19 623.56" stroke="#6ea6fa" stroke-width="1.2" fill="none"/><path d="M387.98 606.63L393.78 606.63M388.82 604.58L392.93 608.68M390.88 603.73L390.88 609.53M392.93 604.58L388.82 608.68" stroke="#6ea6fa" stroke-width="1.2" fill="none"/><polyline points="284.89,718.3 287.72,714.36 292.96,709.09 294.9,707.8 297.52,704.46 311.58,688.9 315.09,684.44 319.71,679.81 331.25,667.65 374.2,622.26 376.24,620.65 390.88,605.63" fill="none" stroke="#1e1e30" stroke-width="1.0"/></g>
<text x="362.1" y="744.2" text-anchor="middle" font-size="10.5">SPI6 severity</text>
<text transform="translate(254.8 650.3) rotate(-90)" text-anchor="middle" font-size="10.5">SRI6 severity</text>
<text x="233.11" y="578" font-size="15.3">(k)</text>
<clipPath id="clipl"><rect x="506.6" y="583.7" width="177.4" height="134.6"/></clipPath>
<path d="M516.06 718.3v-4M516.06 583.7v4M525.52 718.3v-4M525.52 583.7v4M534.98 718.3v-4M534.98 583.7v4M544.45 718.3v-4M544.45 583.7v4M553.91 718.3v-7M553.91 583.7v7M563.37 718.3v-4M563.37 583.7v4M572.83 718.3v-4M572.83 583.7v4M582.29 718.3v-4M582.29 583.7v4M591.75 718.3v-4M591.75 583.7v4M601.21 718.3v-7M601.21 583.7v7M610.67 718.3v-4M610.67 583.7v4M620.14 718.3v-4M620.14 583.7v4M629.6 718.3v-4M629.6 583.7v4M639.06 718.3v-4M639.06 583.7v4M648.52 718.3v-7M648.52 583.7v7M657.98 718.3v-4M657.98 583.7v4M667.44 718.3v-4M667.44 583.7v4M676.9 718.3v-4M676.9 583.7v4M506.6 711.12h4M684 711.12h-4M506.6 703.94h4M684 703.94h-4M506.6 696.76h4M684 696.76h-4M506.6 689.59h4M684 689.59h-4M506.6 682.41h7M684 682.41h-7M506.6 675.23h4M684 675.23h-4M506.6 668.05h4M684 668.05h-4M506.6 660.87h4M684 660.87h-4M506.6 653.69h4M684 653.69h-4M506.6 646.51h7M684 646.51h-7M506.6 639.33h4M684 639.33h-4M506.6 632.16h4M684 632.16h-4M506.6 624.98h4M684 624.98h-4M506.6 617.8h4M684 617.8h-4M506.6 610.62h7M684 610.62h-7M506.6 603.44h4M684 603.44h-4M506.6 596.26h4M684 596.26h-4M506.6 589.08h4M684 589.08h-4" stroke="#5e5e5e" stroke-width="0.9" fill="none"/>
<text x="506.9" y="732.4" text-anchor="middle" font-size="11.0">0</text>
<text x="554.21" y="732.4" text-anchor="middle" font-size="11.0">10</text>
<text x="601.51" y="732.4" text-anchor="middle" font-size="11.0">20</text>
<text x="648.82" y="732.4" text-anchor="middle" font-size="11.0">30</text>
<text x="503.2" y="722.2" text-anchor="end" font-size="11.0">0</text>
<text x="503.2" y="686.31" text-anchor="end" font-size="11.0">10</text>
<text x="503.2" y="650.41" text-anchor="end" font-size="11.0">20</text>
<text x="503.2" y="614.52" text-anchor="end" font-size="11.0">30</text>
<rect x="506.6" y="583.7" width="177.4" height="134.6" fill="none" stroke="#888888" stroke-width="1.05"/>
<g clip-path="url(#clipl)"><line x1="506.6" y1="718.3" x2="684" y2="583.7" stroke="#d6d6d6" stroke-width="0.7"/></g>
<g fill="none" stroke="#3a3a3a" stroke-width="0.9"><circle cx="517.29" cy="704.41" r="1.85"/><circle cx="522.5" cy="708.61" r="1.85"/><circle cx="518.62" cy="713.6" r="1.85"/><circle cx="521.88" cy="716.9" r="1.85"/><circle cx="527.13" cy="715.21" r="1.85"/><circle cx="525.81" cy="715.5" r="1.85"/><circle cx="545.49" cy="688.9" r="1.85"/><circle cx="547.52" cy="678.49" r="1.85"/><circle cx="554.1" cy="673.9" r="1.85"/><circle cx="554.33" cy="695.22" r="1.85"/><circle cx="559.11" cy="684.7" r="1.85"/><circle cx="584.89" cy="635.82" r="1.85"/><circle cx="599.13" cy="644.61" r="1.85"/><circle cx="611.15" cy="587.65" r="1.85"/></g>
<g clip-path="url(#clipl)"><polyline points="517.72,718.66 518.62,717.23 520.56,714.49 522.5,712.54 523.82,711.21 527.13,707.82 545.49,686.22 547.52,684.26 554.1,676.58 559.11,671.17 585.6,640.95 599.13,625.09 611.15,611.7" fill="none" stroke="#f04656" stroke-width="1.2" stroke-dasharray="2.3 0.9"/><polyline points="517.72,718.3 518.62,716.9 520.56,714.21 522.5,712.31 523.82,711.01 527.13,707.71 545.49,686.61 547.52,684.7 554.1,677.2 559.11,671.93 585.6,642.42 599.13,626.92 611.15,613.85" fill="none" stroke="#6ea6fa" stroke-width="1.3"/><path d="M515.72 716.9L521.52 716.9M516.57 714.85L520.67 718.95M518.62 714L518.62 719.8M520.67 714.85L516.57 718.95" stroke="#6ea6fa" stroke-width="1.2" fill="none"/><path d="M517.66 714.21L523.46 714.21M518.5 712.16L522.61 716.26M520.56 711.31L520.56 717.11M522.61 712.16L518.5 716.26" stroke="#6ea6fa" stroke-width="1.2" fill="none"/><path d="M519.6 712.31L525.4 712.31M520.44 710.26L524.55 714.36M522.5 709.41L522.5 715.21M524.55 710.26L520.44 714.36" stroke="#6ea6fa" stroke-width="1.2" fill="none"/><path d="M520.92 711.01L526.72 711.01M521.77 708.96L525.87 713.06M523.82 708.11L523.82 713.91M525.87 708.96L521.77 713.06" stroke="#6ea6fa" stroke-width="1.2" fill="none"/><path d="M524.23 707.71L530.03 707.71M525.08 705.66L529.18 709.76M527.13 704.81L527.13 710.61M529.18 705.66L525.08 709.76" stroke="#6ea6fa" stroke-width="1.2" fill="none"/><path d="M542.59 686.61L548.39 686.61M543.44 684.56L547.54 688.66M545.49 683.71L545.49 689.51M547.54 684.56L543.44 688.66" stroke="#6ea6fa" stroke-width="1.2" fill="none"/><path d="M544.62 684.7L550.42 684.7M545.47 682.65L549.57 686.75M547.52 681.8L547.52 687.6M549.57 682.65L545.47 686.75" stroke="#6ea6fa" stroke-width="1.2" fill="none"/><path d="M551.2 677.2L557 677.2M552.05 675.15L556.15 679.25M554.1 674.3L554.1 680.1M556.15 675.15L552.05 679.25" stroke="#6ea6fa" stroke-width="1.2" fill="none"/><path d="M556.21 671.93L562.01 671.93M557.06 669.88L561.16 673.98M559.11 669.03L559.11 674.83M561.16 669.88L557.06 673.98" stroke="#6ea6fa" stroke-width="1.2" fill="none"/><path d="M582.7 642.42L588.5 642.42M583.55 640.37L587.65 644.47M585.6 639.52L585.6 645.32M587.65 640.37L583.55 644.47" stroke="#6ea6fa" stroke-width="1.2" fill="none"/><path d="M596.23 626.92L602.03 626.92M597.08 624.86L601.18 628.97M599.13 624.02L599.13 629.82M601.18 624.86L597.08 628.97" stroke="#6ea6fa" stroke-width="1.2" fill="none"/><path d="M608.25 613.85L614.05 613.85M609.1 611.8L613.2 615.9M611.15 610.95L611.15 616.75M613.2 611.8L609.1 615.9" stroke="#6ea6fa" stroke-width="1.2" fill="none"/><polyline points="517.72,718.3 518.62,716.89 520.56,714.18 522.5,712.25 523.82,710.94 527.13,707.6 545.49,686.29 547.52,684.36 554.1,676.78 559.11,671.45 585.6,641.64 599.13,625.98 611.15,612.77" fill="none" stroke="#1e1e30" stroke-width="1.0"/></g>
<text x="595.5" y="744.2" text-anchor="middle" font-size="10.5">SPI6 severity</text>
<text transform="translate(488 650.3) rotate(-90)" text-anchor="middle" font-size="10.5">SRI6 severity</text>
<text x="470.21" y="578" font-size="15.3">(l)</text>
</svg></body></html>
